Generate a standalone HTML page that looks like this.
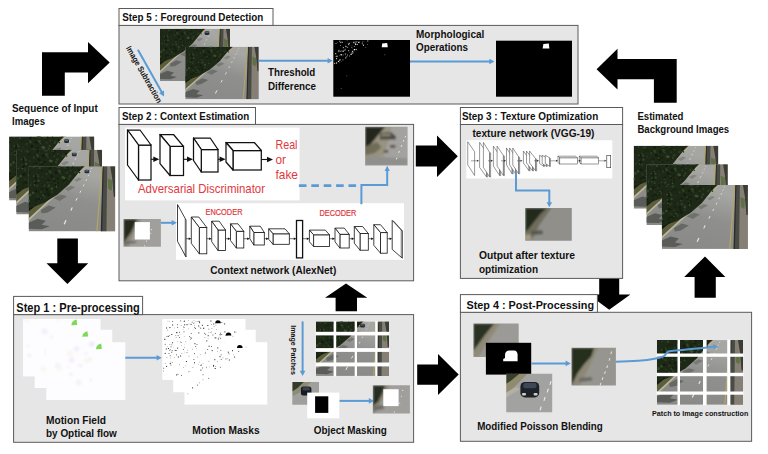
<!DOCTYPE html>
<html><head><meta charset="utf-8"><title>Pipeline</title>
<style>
html,body{margin:0;padding:0;background:#fff;}
svg{display:block;font-family:"Liberation Sans",sans-serif;}
</style></head><body>
<svg width="768" height="454" viewBox="0 0 768 454">
<defs>
<filter id="b1" x="-5%" y="-5%" width="110%" height="110%"><feGaussianBlur stdDeviation="0.5"/></filter>
<filter id="b2" x="-5%" y="-5%" width="110%" height="110%"><feGaussianBlur stdDeviation="0.85"/></filter>

<linearGradient id="rg" x1="0" y1="1" x2="0.35" y2="0"><stop offset="0" stop-color="#888886"/><stop offset="0.6" stop-color="#8f8f8d"/><stop offset="1" stop-color="#a6a6a3"/></linearGradient>
<symbol id="road" viewBox="0 0 86 64" preserveAspectRatio="none">
<rect width="86" height="64" fill="url(#rg)"/>
<g filter="url(#b1)">
<rect x="76.5" y="0" width="9.5" height="64" fill="#857f75"/>
<polygon points="78.5,12 83,14 82.5,24 79,22" fill="#5f6f45"/>
<polygon points="81,0 86,0 86,30 84.5,30 83,12" fill="#3a3d36"/>
<polygon points="73.6,0 78,0 77.2,64 72.2,64" fill="#4a4b45"/>
<polygon points="73.4,0 74.5,0 73,64 71.6,64" fill="#2a2c28"/>
<polygon points="72.4,0 73.3,0 68.4,64 67.2,64" fill="#b8a55f"/>
<polygon points="54,0 57.4,0 0,53 0,41" fill="#5c5e3a"/>
<polygon points="56.2,0 58,0 0,53.8 0,51.4" fill="#bdb6a0"/>
<polygon points="0,55.5 9,51.5 17,53.5 13,57.5 21,59 13,62 0,61.5" fill="#5a5c59"/>
<polygon points="12,43 20,38.5 27,40.5 19,45.5 13,46.5" fill="#666864"/>
<polygon points="25,31.5 32,27.8 38,29.5 31,34" fill="#6f716d"/>
<polygon points="36,22 42,19 46,20.6 39,24.5" fill="#787a76"/>
<polygon points="45,13.5 50,11 53,12.2 48,15.5" fill="#838581"/>
</g>
<polygon points="52.6,0 55.2,0 0,44.5 0,37" fill="#151b13"/>
<polygon points="0,0 54,0 48.5,7.5 40,18 28.5,28 15,36 0,41.5" fill="#1d2816"/>
<circle cx="20.0" cy="19.4" r="1.34" fill="#2c3d22"/>
<circle cx="41.1" cy="9.7" r="1.40" fill="#2c3d22"/>
<circle cx="6.0" cy="18.3" r="0.88" fill="#3a5030"/>
<circle cx="5.4" cy="9.7" r="0.91" fill="#3a5030"/>
<circle cx="9.7" cy="33.8" r="0.66" fill="#2f4226"/>
<circle cx="42.2" cy="5.4" r="0.63" fill="#1a2413"/>
<circle cx="0.1" cy="34.0" r="1.27" fill="#3a5030"/>
<circle cx="50.6" cy="6.2" r="0.79" fill="#25331c"/>
<circle cx="30.8" cy="6.2" r="0.68" fill="#3a5030"/>
<circle cx="48.9" cy="5.9" r="0.80" fill="#2f4226"/>
<circle cx="19.1" cy="6.5" r="0.76" fill="#25331c"/>
<circle cx="16.0" cy="30.7" r="1.10" fill="#2c3d22"/>
<circle cx="37.5" cy="2.6" r="1.32" fill="#141c0e"/>
<circle cx="25.5" cy="12.3" r="0.97" fill="#1a2413"/>
<circle cx="9.3" cy="10.0" r="1.45" fill="#2c3d22"/>
<circle cx="19.0" cy="15.8" r="0.87" fill="#2f4226"/>
<circle cx="30.7" cy="0.4" r="1.21" fill="#2c3d22"/>
<circle cx="8.8" cy="19.4" r="1.26" fill="#33482a"/>
<circle cx="9.4" cy="7.4" r="1.01" fill="#141c0e"/>
<circle cx="46.1" cy="8.9" r="0.61" fill="#1a2413"/>
<circle cx="17.1" cy="14.5" r="0.54" fill="#162010"/>
<circle cx="50.1" cy="3.6" r="1.01" fill="#141c0e"/>
<circle cx="19.2" cy="5.8" r="1.42" fill="#162010"/>
<circle cx="28.9" cy="12.2" r="0.81" fill="#141c0e"/>
<circle cx="26.1" cy="12.5" r="1.50" fill="#162010"/>
<circle cx="8.6" cy="1.9" r="0.53" fill="#2f4226"/>
<circle cx="39.2" cy="13.4" r="0.96" fill="#162010"/>
<circle cx="22.4" cy="2.2" r="1.30" fill="#2c3d22"/>
<circle cx="17.7" cy="8.1" r="1.13" fill="#25331c"/>
<circle cx="41.8" cy="4.2" r="0.87" fill="#2f4226"/>
<circle cx="3.1" cy="16.4" r="0.95" fill="#25331c"/>
<circle cx="14.2" cy="4.7" r="1.46" fill="#1a2413"/>
<circle cx="36.5" cy="12.4" r="0.79" fill="#162010"/>
<circle cx="21.4" cy="5.7" r="1.32" fill="#2f4226"/>
<circle cx="28.2" cy="7.0" r="1.37" fill="#1a2413"/>
<circle cx="9.5" cy="19.2" r="0.56" fill="#141c0e"/>
<circle cx="40.5" cy="12.7" r="1.26" fill="#2c3d22"/>
<circle cx="19.3" cy="27.5" r="1.34" fill="#162010"/>
<circle cx="7.4" cy="33.4" r="1.46" fill="#162010"/>
<circle cx="18.0" cy="7.0" r="0.97" fill="#2c3d22"/>
<circle cx="41.0" cy="12.7" r="0.96" fill="#162010"/>
<circle cx="25.0" cy="11.8" r="0.85" fill="#141c0e"/>
<circle cx="20.3" cy="18.6" r="0.85" fill="#2f4226"/>
<circle cx="13.3" cy="10.8" r="1.48" fill="#1a2413"/>
<circle cx="31.9" cy="6.4" r="0.70" fill="#25331c"/>
<circle cx="14.1" cy="29.6" r="1.19" fill="#162010"/>
<circle cx="20.7" cy="15.6" r="1.12" fill="#25331c"/>
<circle cx="32.0" cy="7.2" r="0.80" fill="#2f4226"/>
<circle cx="13.4" cy="22.1" r="1.22" fill="#162010"/>
<circle cx="1.5" cy="6.2" r="1.12" fill="#1a2413"/>
<circle cx="9.6" cy="29.6" r="1.13" fill="#25331c"/>
<circle cx="2.2" cy="18.4" r="0.67" fill="#3a5030"/>
<circle cx="47.3" cy="4.3" r="0.98" fill="#25331c"/>
<circle cx="29.1" cy="16.2" r="0.88" fill="#141c0e"/>
<circle cx="28.1" cy="19.8" r="1.22" fill="#3a5030"/>
<circle cx="19.8" cy="13.7" r="1.36" fill="#162010"/>
<circle cx="22.9" cy="9.9" r="1.46" fill="#141c0e"/>
<circle cx="29.1" cy="11.8" r="1.05" fill="#162010"/>
<circle cx="18.0" cy="22.7" r="1.32" fill="#141c0e"/>
<circle cx="16.3" cy="27.3" r="0.97" fill="#141c0e"/>
<circle cx="8.3" cy="14.9" r="1.46" fill="#1a2413"/>
<circle cx="27.1" cy="5.9" r="1.32" fill="#141c0e"/>
<circle cx="35.1" cy="14.9" r="1.07" fill="#141c0e"/>
<circle cx="32.6" cy="5.5" r="0.93" fill="#2f4226"/>
<circle cx="33.2" cy="5.6" r="1.47" fill="#1a2413"/>
<circle cx="8.4" cy="28.9" r="1.10" fill="#25331c"/>
<circle cx="7.4" cy="33.5" r="0.75" fill="#1a2413"/>
<circle cx="1.0" cy="36.9" r="0.99" fill="#162010"/>
<circle cx="15.2" cy="18.6" r="1.16" fill="#33482a"/>
<circle cx="46.3" cy="6.2" r="1.28" fill="#2c3d22"/>
<circle cx="43.8" cy="0.5" r="0.74" fill="#162010"/>
<circle cx="25.1" cy="1.4" r="0.77" fill="#1a2413"/>
<circle cx="7.0" cy="37.6" r="0.99" fill="#162010"/>
<circle cx="31.9" cy="5.0" r="0.52" fill="#33482a"/>
<circle cx="6.7" cy="11.0" r="1.11" fill="#141c0e"/>
<circle cx="38.8" cy="1.0" r="0.86" fill="#141c0e"/>
<circle cx="28.0" cy="14.6" r="0.50" fill="#2c3d22"/>
<circle cx="23.0" cy="22.1" r="1.39" fill="#33482a"/>
<circle cx="28.9" cy="0.6" r="1.09" fill="#2f4226"/>
<circle cx="8.8" cy="16.8" r="1.36" fill="#1a2413"/>
<circle cx="34.1" cy="10.9" r="1.40" fill="#3a5030"/>
<circle cx="19.2" cy="25.5" r="1.34" fill="#162010"/>
<circle cx="36.4" cy="16.6" r="1.15" fill="#162010"/>
<circle cx="25.0" cy="12.1" r="0.98" fill="#25331c"/>
<circle cx="29.1" cy="19.4" r="1.04" fill="#141c0e"/>
<circle cx="22.6" cy="21.1" r="0.57" fill="#2c3d22"/>
<circle cx="12.2" cy="32.0" r="1.16" fill="#33482a"/>
<circle cx="1.4" cy="28.2" r="1.50" fill="#33482a"/>
<circle cx="37.2" cy="1.9" r="0.72" fill="#33482a"/>
<circle cx="8.9" cy="18.5" r="1.49" fill="#25331c"/>
<circle cx="36.1" cy="16.2" r="1.11" fill="#25331c"/>
<circle cx="21.9" cy="6.3" r="0.54" fill="#3a5030"/>
<circle cx="5.7" cy="14.8" r="0.78" fill="#33482a"/>
<circle cx="30.3" cy="4.6" r="1.38" fill="#2f4226"/>
<circle cx="7.1" cy="16.8" r="1.19" fill="#141c0e"/>
<circle cx="25.9" cy="13.8" r="1.41" fill="#141c0e"/>
<circle cx="7.3" cy="11.5" r="1.41" fill="#162010"/>
<circle cx="26.5" cy="22.0" r="0.56" fill="#162010"/>
<circle cx="12.5" cy="32.5" r="1.02" fill="#162010"/>
<circle cx="7.1" cy="9.1" r="0.95" fill="#141c0e"/>
<circle cx="20.6" cy="5.1" r="1.16" fill="#2c3d22"/>
<circle cx="4.5" cy="26.1" r="1.36" fill="#33482a"/>
<circle cx="26.8" cy="17.7" r="1.38" fill="#2f4226"/>
<circle cx="25.5" cy="12.6" r="1.04" fill="#2c3d22"/>
<circle cx="14.4" cy="28.7" r="1.18" fill="#2f4226"/>
<circle cx="11.8" cy="4.5" r="1.32" fill="#1a2413"/>
<circle cx="7.4" cy="24.4" r="1.34" fill="#141c0e"/>
<circle cx="10.0" cy="32.4" r="1.30" fill="#141c0e"/>
<circle cx="20.0" cy="28.2" r="1.15" fill="#141c0e"/>
<circle cx="36.4" cy="12.3" r="1.02" fill="#141c0e"/>
<circle cx="29.0" cy="20.6" r="0.90" fill="#25331c"/>
<circle cx="5.1" cy="1.3" r="0.70" fill="#3a5030"/>
<circle cx="9.7" cy="24.6" r="0.50" fill="#141c0e"/>
<circle cx="12.2" cy="25.3" r="0.82" fill="#2f4226"/>
<circle cx="24.5" cy="7.5" r="0.57" fill="#25331c"/>
<circle cx="13.3" cy="9.8" r="0.65" fill="#1a2413"/>
<circle cx="13.5" cy="10.8" r="1.25" fill="#25331c"/>
<circle cx="35.6" cy="1.3" r="0.84" fill="#2c3d22"/>
<circle cx="39.9" cy="12.3" r="1.19" fill="#2c3d22"/>
<circle cx="34.4" cy="17.4" r="0.62" fill="#25331c"/>
<circle cx="35.4" cy="11.4" r="1.23" fill="#3a5030"/>
<circle cx="8.7" cy="7.8" r="1.07" fill="#2c3d22"/>
<circle cx="26.6" cy="18.1" r="1.18" fill="#141c0e"/>
<circle cx="9.8" cy="14.1" r="1.23" fill="#33482a"/>
<circle cx="38.1" cy="6.4" r="0.68" fill="#3a5030"/>
<circle cx="11.1" cy="1.7" r="1.23" fill="#2f4226"/>
<circle cx="14.3" cy="18.0" r="1.28" fill="#1a2413"/>
<circle cx="21.7" cy="1.8" r="1.44" fill="#141c0e"/>
<circle cx="38.0" cy="9.2" r="0.59" fill="#1a2413"/>
<circle cx="23.2" cy="25.3" r="1.00" fill="#2c3d22"/>
<line x1="35.3" y1="56.9" x2="37.1" y2="53.1" stroke="#ecece9" stroke-width="1.16"/>
<line x1="41.9" y1="43.5" x2="43.3" y2="40.5" stroke="#ecece9" stroke-width="1.03"/>
<line x1="47.0" y1="33.8" x2="48.2" y2="31.2" stroke="#ecece9" stroke-width="0.93"/>
<line x1="50.9" y1="26.0" x2="51.9" y2="24.0" stroke="#ecece9" stroke-width="0.84"/>
<line x1="54.2" y1="19.7" x2="55.0" y2="17.9" stroke="#ecece9" stroke-width="0.79"/>
<line x1="56.8" y1="14.3" x2="57.6" y2="12.7" stroke="#ecece9" stroke-width="0.74"/>
<line x1="59.1" y1="9.7" x2="59.7" y2="8.3" stroke="#ecece9" stroke-width="0.71"/>
<line x1="60.9" y1="5.8" x2="61.5" y2="4.6" stroke="#ecece9" stroke-width="0.67"/>
<line x1="62.4" y1="2.5" x2="62.8" y2="1.5" stroke="#ecece9" stroke-width="0.64"/>
</symbol>
<symbol id="car" viewBox="0 0 6 5"><rect x="0.6" y="0.8" width="4.8" height="3.6" rx="1.2" fill="#252c38"/><rect x="1.3" y="1.2" width="3.4" height="1.4" rx="0.6" fill="#56627a"/></symbol>
</defs>
<rect width="768" height="454" fill="#fff"/>
<polygon points="42.00,95.80 42.00,52.20 88.00,52.20 88.00,42.00 109.70,62.50 88.00,83.30 88.00,72.40 64.80,72.40 64.80,95.80" fill="#000" stroke="none" stroke-width="1" />
<polygon points="676.70,102.70 676.70,58.90 617.50,58.90 617.50,48.70 596.60,69.20 617.50,89.50 617.50,79.30 653.90,79.30 653.90,102.70" fill="#000" stroke="none" stroke-width="1" />
<polygon points="57.30,238.60 77.90,238.60 77.90,263.30 88.20,263.30 67.40,284.00 46.50,263.30 57.30,263.30" fill="#000" stroke="none" stroke-width="1" />
<polygon points="415.80,145.50 437.00,145.50 437.00,135.60 457.80,156.30 437.00,177.00 437.00,166.40 415.80,166.40" fill="#000" stroke="none" stroke-width="1" />
<polygon points="335.60,311.20 335.60,297.70 325.00,297.70 346.00,283.50 367.30,297.70 357.00,297.70 357.00,311.20" fill="#000" stroke="none" stroke-width="1" />
<polygon points="417.20,364.60 438.00,364.60 438.00,354.00 458.70,374.40 438.00,395.10 438.00,384.80 417.20,384.80" fill="#000" stroke="none" stroke-width="1" />
<polygon points="599.20,278.00 619.20,278.00 619.20,294.40 630.40,294.40 609.20,309.70 588.70,294.40 599.20,294.40" fill="#000" stroke="none" stroke-width="1" />
<polygon points="694.60,297.70 694.60,276.90 684.20,276.90 705.00,256.40 725.40,276.90 715.80,276.90 715.80,297.70" fill="#000" stroke="none" stroke-width="1" />
<rect x="119.00" y="25.40" width="459.00" height="78.60" fill="#e7e6e6" stroke="#5a5a5a" stroke-width="1" />
<rect x="119.00" y="8.50" width="154.00" height="16.90" fill="#fff" stroke="#5a5a5a" stroke-width="1" />
<rect x="119.00" y="124.40" width="294.60" height="156.40" fill="#e7e6e6" stroke="#5a5a5a" stroke-width="1" />
<rect x="119.00" y="107.50" width="136.50" height="16.90" fill="#fff" stroke="#5a5a5a" stroke-width="1" />
<rect x="460.40" y="124.50" width="162.20" height="153.90" fill="#e7e6e6" stroke="#5a5a5a" stroke-width="1" />
<rect x="460.40" y="107.50" width="162.20" height="17.00" fill="#fff" stroke="#5a5a5a" stroke-width="1" />
<rect x="13.60" y="314.60" width="400.00" height="127.70" fill="#e7e6e6" stroke="#5a5a5a" stroke-width="1" />
<rect x="13.60" y="296.40" width="129.00" height="18.20" fill="#fff" stroke="#5a5a5a" stroke-width="1" />
<rect x="460.40" y="312.30" width="291.20" height="129.00" fill="#e7e6e6" stroke="#5a5a5a" stroke-width="1" />
<rect x="460.40" y="294.60" width="137.00" height="17.70" fill="#fff" stroke="#5a5a5a" stroke-width="1" />
<text x="122.20" y="21.20" font-size="10.8" font-weight="bold" fill="#111" textLength="141.0" lengthAdjust="spacingAndGlyphs" >Step 5 : Foreground Detection</text>
<text x="122.00" y="120.30" font-size="10.8" font-weight="bold" fill="#111" textLength="127.2" lengthAdjust="spacingAndGlyphs" >Step 2 : Context Estimation</text>
<text x="461.90" y="120.30" font-size="10.8" font-weight="bold" fill="#111" textLength="136.3" lengthAdjust="spacingAndGlyphs" >Step 3 : Texture Optimization</text>
<text x="16.30" y="311.90" font-size="12.2" font-weight="bold" fill="#111" textLength="123.4" lengthAdjust="spacingAndGlyphs" >Step 1 : Pre-processing</text>
<text x="466.50" y="308.60" font-size="11.4" font-weight="bold" fill="#111" textLength="127.5" lengthAdjust="spacingAndGlyphs" >Step 4 : Post-Processing</text>
<text x="12.00" y="111.60" font-size="10.8" font-weight="bold" fill="#111" textLength="85.7" lengthAdjust="spacingAndGlyphs" >Sequence of Input</text>
<text x="12.00" y="125.30" font-size="10.8" font-weight="bold" fill="#111" textLength="33.0" lengthAdjust="spacingAndGlyphs" >Images</text>
<text x="637.40" y="119.60" font-size="10.8" font-weight="bold" fill="#111" textLength="46.0" lengthAdjust="spacingAndGlyphs" >Estimated</text>
<text x="637.40" y="133.20" font-size="10.8" font-weight="bold" fill="#111" textLength="91.8" lengthAdjust="spacingAndGlyphs" >Background Images</text>
<use href="#road" x="9.10" y="136.40" width="85.20" height="64.10" />
<use href="#car" x="63.60" y="138.50" width="6.00" height="5.00" />
<use href="#road" x="16.20" y="149.80" width="85.90" height="64.70" />
<use href="#car" x="71.30" y="151.90" width="6.00" height="5.00" />
<use href="#road" x="28.60" y="166.30" width="86.70" height="65.10" />
<use href="#car" x="83.90" y="168.90" width="6.00" height="5.00" />
<use href="#road" x="633.70" y="145.80" width="84.60" height="62.90" />
<use href="#road" x="646.40" y="164.30" width="81.40" height="60.70" />
<use href="#road" x="661.80" y="184.90" width="86.10" height="64.00" />
<use href="#road" x="160.00" y="28.80" width="70.00" height="52.20" />
<use href="#car" x="204.00" y="30.50" width="6.00" height="5.00" />
<use href="#road" x="185.30" y="46.70" width="73.40" height="52.60" />
<g transform="translate(128.2,46.6) rotate(60.3)">
<text x="0.00" y="0.60" font-size="8.2" font-weight="bold" fill="#111" textLength="64.0" lengthAdjust="spacingAndGlyphs" dominant-baseline="middle">Image Subtraction</text>
</g>
<polyline points="137.90,49.70 162.06,92.77" fill="none" stroke="#5b9bd5" stroke-width="2.0" />
<polygon points="164.10,96.40 159.11,93.23 164.00,90.49" fill="#5b9bd5" stroke="none" stroke-width="1" />
<polyline points="258.70,60.80 328.64,60.80" fill="none" stroke="#5b9bd5" stroke-width="2.0" />
<polygon points="332.80,60.80 327.60,63.60 327.60,58.00" fill="#5b9bd5" stroke="none" stroke-width="1" />
<rect x="333.30" y="40.00" width="76.70" height="56.70" fill="#000" stroke="none" stroke-width="1" />
<rect x="339.6" y="59.0" width="0.8" height="0.8" fill="#888"/>
<rect x="339.3" y="40.7" width="1.0" height="1.0" fill="#ddd"/>
<rect x="340.2" y="54.6" width="0.5" height="0.5" fill="#fff"/>
<rect x="346.8" y="56.2" width="0.5" height="0.5" fill="#ccc"/>
<rect x="341.0" y="61.1" width="0.6" height="0.6" fill="#999"/>
<rect x="367.3" y="40.5" width="1.0" height="1.0" fill="#ddd"/>
<rect x="353.3" y="41.6" width="1.2" height="1.2" fill="#888"/>
<rect x="344.5" y="49.9" width="0.8" height="0.8" fill="#fff"/>
<rect x="339.2" y="62.5" width="0.5" height="0.5" fill="#fff"/>
<rect x="352.9" y="52.5" width="0.8" height="0.8" fill="#888"/>
<rect x="350.8" y="45.4" width="0.5" height="0.5" fill="#888"/>
<rect x="338.5" y="61.1" width="0.6" height="0.6" fill="#ccc"/>
<rect x="345.2" y="45.7" width="1.2" height="1.2" fill="#999"/>
<rect x="336.3" y="55.5" width="1.2" height="1.2" fill="#888"/>
<rect x="361.8" y="42.5" width="1.2" height="1.2" fill="#888"/>
<rect x="358.6" y="41.6" width="1.2" height="1.2" fill="#888"/>
<rect x="344.9" y="53.5" width="0.8" height="0.8" fill="#fff"/>
<rect x="363.0" y="44.7" width="1.0" height="1.0" fill="#fff"/>
<rect x="351.6" y="52.5" width="1.2" height="1.2" fill="#ccc"/>
<rect x="353.8" y="49.0" width="1.2" height="1.2" fill="#fff"/>
<rect x="340.1" y="45.0" width="0.8" height="0.8" fill="#aaa"/>
<rect x="345.9" y="56.5" width="0.8" height="0.8" fill="#ccc"/>
<rect x="337.4" y="42.2" width="0.6" height="0.6" fill="#888"/>
<rect x="355.7" y="48.9" width="1.2" height="1.2" fill="#999"/>
<rect x="335.3" y="56.4" width="0.6" height="0.6" fill="#999"/>
<rect x="348.1" y="43.6" width="1.0" height="1.0" fill="#ddd"/>
<rect x="346.9" y="47.1" width="0.6" height="0.6" fill="#ccc"/>
<rect x="349.1" y="55.5" width="1.0" height="1.0" fill="#999"/>
<rect x="351.9" y="44.8" width="0.5" height="0.5" fill="#aaa"/>
<rect x="356.8" y="41.3" width="0.6" height="0.6" fill="#ccc"/>
<rect x="355.0" y="43.9" width="0.6" height="0.6" fill="#ccc"/>
<rect x="342.7" y="54.5" width="0.8" height="0.8" fill="#ccc"/>
<rect x="335.2" y="53.2" width="1.0" height="1.0" fill="#fff"/>
<rect x="335.5" y="43.1" width="0.8" height="0.8" fill="#ccc"/>
<rect x="337.9" y="51.2" width="1.0" height="1.0" fill="#888"/>
<rect x="348.5" y="44.5" width="0.8" height="0.8" fill="#ccc"/>
<rect x="352.5" y="47.9" width="0.5" height="0.5" fill="#888"/>
<rect x="344.8" y="41.6" width="0.5" height="0.5" fill="#aaa"/>
<rect x="348.0" y="50.0" width="1.2" height="1.2" fill="#888"/>
<rect x="342.8" y="51.4" width="0.6" height="0.6" fill="#ccc"/>
<rect x="338.8" y="51.1" width="0.6" height="0.6" fill="#fff"/>
<rect x="346.3" y="46.2" width="0.5" height="0.5" fill="#fff"/>
<rect x="356.7" y="43.8" width="1.2" height="1.2" fill="#aaa"/>
<rect x="354.9" y="43.4" width="1.2" height="1.2" fill="#ccc"/>
<rect x="362.4" y="44.2" width="0.6" height="0.6" fill="#999"/>
<rect x="342.8" y="47.0" width="1.2" height="1.2" fill="#999"/>
<rect x="351.1" y="47.3" width="0.5" height="0.5" fill="#fff"/>
<rect x="355.2" y="44.1" width="1.0" height="1.0" fill="#ddd"/>
<rect x="339.9" y="59.6" width="0.8" height="0.8" fill="#999"/>
<rect x="347.6" y="47.3" width="0.6" height="0.6" fill="#888"/>
<rect x="339.3" y="60.0" width="0.8" height="0.8" fill="#ddd"/>
<rect x="340.7" y="54.2" width="1.2" height="1.2" fill="#fff"/>
<rect x="352.9" y="42.0" width="1.2" height="1.2" fill="#999"/>
<rect x="345.1" y="54.4" width="0.8" height="0.8" fill="#999"/>
<rect x="346.9" y="46.9" width="0.6" height="0.6" fill="#fff"/>
<rect x="355.4" y="49.2" width="0.6" height="0.6" fill="#aaa"/>
<rect x="336.1" y="58.2" width="1.0" height="1.0" fill="#fff"/>
<rect x="338.4" y="49.8" width="1.0" height="1.0" fill="#ddd"/>
<rect x="355.5" y="40.9" width="1.0" height="1.0" fill="#888"/>
<rect x="351.9" y="50.9" width="1.0" height="1.0" fill="#fff"/>
<rect x="341.7" y="41.7" width="1.0" height="1.0" fill="#fff"/>
<rect x="342.4" y="59.4" width="1.0" height="1.0" fill="#999"/>
<rect x="353.9" y="45.9" width="1.0" height="1.0" fill="#888"/>
<rect x="345.3" y="46.6" width="0.5" height="0.5" fill="#fff"/>
<rect x="350.6" y="53.7" width="1.2" height="1.2" fill="#ccc"/>
<rect x="341.5" y="50.5" width="1.2" height="1.2" fill="#999"/>
<rect x="343.2" y="51.0" width="0.8" height="0.8" fill="#ccc"/>
<rect x="350.6" y="53.9" width="0.8" height="0.8" fill="#ddd"/>
<rect x="347.2" y="54.6" width="0.5" height="0.5" fill="#ccc"/>
<rect x="344.7" y="48.8" width="1.0" height="1.0" fill="#999"/>
<rect x="338.9" y="55.3" width="0.5" height="0.5" fill="#ddd"/>
<rect x="358.2" y="41.9" width="1.0" height="1.0" fill="#fff"/>
<rect x="334.1" y="62.9" width="1.0" height="1.0" fill="#ccc"/>
<rect x="345.0" y="57.4" width="1.2" height="1.2" fill="#999"/>
<rect x="340.4" y="42.6" width="0.5" height="0.5" fill="#aaa"/>
<rect x="350.8" y="41.9" width="0.6" height="0.6" fill="#999"/>
<rect x="351.5" y="46.8" width="0.8" height="0.8" fill="#999"/>
<rect x="355.5" y="42.0" width="1.0" height="1.0" fill="#888"/>
<rect x="353.5" y="50.7" width="0.8" height="0.8" fill="#999"/>
<rect x="339.9" y="50.8" width="0.8" height="0.8" fill="#fff"/>
<rect x="362.2" y="41.5" width="0.5" height="0.5" fill="#aaa"/>
<rect x="340.4" y="42.2" width="0.8" height="0.8" fill="#fff"/>
<rect x="336.4" y="56.1" width="1.0" height="1.0" fill="#ddd"/>
<rect x="349.2" y="52.5" width="0.5" height="0.5" fill="#ddd"/>
<rect x="363.6" y="41.1" width="0.6" height="0.6" fill="#888"/>
<rect x="346.8" y="40.5" width="0.6" height="0.6" fill="#ccc"/>
<rect x="348.8" y="42.8" width="1.0" height="1.0" fill="#ddd"/>
<rect x="339.4" y="59.1" width="1.0" height="1.0" fill="#888"/>
<rect x="337.9" y="60.8" width="1.2" height="1.2" fill="#ddd"/>
<rect x="336.4" y="43.5" width="0.5" height="0.5" fill="#999"/>
<rect x="354.2" y="42.6" width="0.6" height="0.6" fill="#ccc"/>
<rect x="335.9" y="62.4" width="1.2" height="1.2" fill="#ddd"/>
<rect x="347.1" y="54.7" width="0.8" height="0.8" fill="#ccc"/>
<rect x="343.2" y="49.9" width="0.8" height="0.8" fill="#999"/>
<rect x="346.9" y="43.4" width="0.5" height="0.5" fill="#999"/>
<rect x="346.5" y="75.5" width="0.7" height="0.7" fill="#aaa"/>
<rect x="340.8" y="88" width="0.7" height="0.7" fill="#aaa"/>
<rect x="384.5" y="54.5" width="0.7" height="0.7" fill="#aaa"/>
<rect x="367" y="44" width="0.7" height="0.7" fill="#aaa"/>
<rect x="365.5" y="47" width="0.7" height="0.7" fill="#aaa"/>
<path d="M381.7,47.3 L382.2,43.6 L387.2,43 L387.8,47.3 Z" fill="#fff"/>
<text x="268.00" y="75.90" font-size="10.8" font-weight="bold" fill="#111" textLength="47.3" lengthAdjust="spacingAndGlyphs" >Threshold</text>
<text x="268.00" y="89.60" font-size="10.8" font-weight="bold" fill="#111" textLength="48.0" lengthAdjust="spacingAndGlyphs" >Difference</text>
<polyline points="410.00,61.50 490.34,61.50" fill="none" stroke="#5b9bd5" stroke-width="2.0" />
<polygon points="494.50,61.50 489.30,64.30 489.30,58.70" fill="#5b9bd5" stroke="none" stroke-width="1" />
<text x="416.00" y="37.90" font-size="10.8" font-weight="bold" fill="#111" textLength="68.3" lengthAdjust="spacingAndGlyphs" >Morphological</text>
<text x="416.00" y="51.30" font-size="10.8" font-weight="bold" fill="#111" textLength="52.0" lengthAdjust="spacingAndGlyphs" >Operations</text>
<rect x="496.00" y="40.70" width="76.00" height="56.00" fill="#000" stroke="none" stroke-width="1" />
<path d="M542.6,48.6 L543.4,44 L548.8,43.4 L549.4,48.6 Z" fill="#fff"/>
<rect x="125.00" y="127.60" width="174.50" height="72.80" fill="#fff" stroke="none" stroke-width="1" />
<rect x="138.50" y="145.00" width="12.50" height="35.00" fill="#fff" stroke="#111" stroke-width="1.25" />
<polygon points="138.50,145.00 127.50,130.00 140.00,130.00 151.00,145.00" fill="#fff" stroke="#111" stroke-width="1.25" stroke-linejoin="round"/>
<polygon points="138.50,145.00 127.50,130.00 127.50,165.00 138.50,180.00" fill="#fff" stroke="#111" stroke-width="1.25" stroke-linejoin="round"/>
<rect x="170.00" y="146.30" width="13.50" height="29.20" fill="#fff" stroke="#111" stroke-width="1.25" />
<polygon points="170.00,146.30 160.00,134.50 173.50,134.50 183.50,146.30" fill="#fff" stroke="#111" stroke-width="1.25" stroke-linejoin="round"/>
<polygon points="170.00,146.30 160.00,134.50 160.00,163.70 170.00,175.50" fill="#fff" stroke="#111" stroke-width="1.25" stroke-linejoin="round"/>
<rect x="201.30" y="149.50" width="16.70" height="22.50" fill="#fff" stroke="#111" stroke-width="1.25" />
<polygon points="201.30,149.50 193.50,138.00 210.20,138.00 218.00,149.50" fill="#fff" stroke="#111" stroke-width="1.25" stroke-linejoin="round"/>
<polygon points="201.30,149.50 193.50,138.00 193.50,160.50 201.30,172.00" fill="#fff" stroke="#111" stroke-width="1.25" stroke-linejoin="round"/>
<rect x="233.00" y="150.50" width="28.30" height="19.50" fill="#fff" stroke="#111" stroke-width="1.25" />
<polygon points="233.00,150.50 226.00,142.50 254.30,142.50 261.30,150.50" fill="#fff" stroke="#111" stroke-width="1.25" stroke-linejoin="round"/>
<polygon points="233.00,150.50 226.00,142.50 226.00,162.00 233.00,170.00" fill="#fff" stroke="#111" stroke-width="1.25" stroke-linejoin="round"/>
<polyline points="151.00,159.30 155.10,159.30" fill="none" stroke="#111" stroke-width="1.1" />
<polygon points="159.30,159.30 153.30,162.10 153.30,156.50" fill="#111" stroke="none" stroke-width="1" />
<polyline points="183.50,159.30 188.80,159.30" fill="none" stroke="#111" stroke-width="1.1" />
<polygon points="193.00,159.30 187.00,162.10 187.00,156.50" fill="#111" stroke="none" stroke-width="1" />
<polyline points="218.00,159.30 221.40,159.30" fill="none" stroke="#111" stroke-width="1.1" />
<polygon points="225.60,159.30 219.60,162.10 219.60,156.50" fill="#111" stroke="none" stroke-width="1" />
<polyline points="261.30,159.50 268.80,159.50" fill="none" stroke="#111" stroke-width="1.1" />
<polygon points="273.00,159.50 267.00,162.30 267.00,156.70" fill="#111" stroke="none" stroke-width="1" />
<text x="275.50" y="148.60" font-size="13.2" font-weight="normal" fill="#e0383e" textLength="22.0" lengthAdjust="spacingAndGlyphs" >Real</text>
<text x="275.50" y="163.60" font-size="13.2" font-weight="normal" fill="#e0383e" textLength="10.5" lengthAdjust="spacingAndGlyphs" >or</text>
<text x="275.50" y="178.60" font-size="13.2" font-weight="normal" fill="#e0383e" textLength="22.5" lengthAdjust="spacingAndGlyphs" >fake</text>
<text x="138.00" y="192.60" font-size="13.2" font-weight="normal" fill="#e0383e" textLength="127.0" lengthAdjust="spacingAndGlyphs" >Adversarial Discriminator</text>
<rect x="176.00" y="203.20" width="228.00" height="56.60" fill="#fff" stroke="none" stroke-width="1" />
<text x="205.50" y="215.10" font-size="8.4" font-weight="normal" fill="#e0383e" textLength="37.0" lengthAdjust="spacingAndGlyphs" stroke="#e0383e" stroke-width="0.2">ENCODER</text>
<text x="319.50" y="215.60" font-size="8.4" font-weight="normal" fill="#e0383e" textLength="36.8" lengthAdjust="spacingAndGlyphs" stroke="#e0383e" stroke-width="0.2">DECODER</text>
<text x="210.30" y="274.40" font-size="10.8" font-weight="bold" fill="#111" textLength="126.0" lengthAdjust="spacingAndGlyphs" >Context network (AlexNet)</text>
<clipPath id="c1"><rect x="123.50" y="219.00" width="37.40" height="27.80"/></clipPath>
<g clip-path="url(#c1)"><g filter="url(#b2)">
<rect x="119.50" y="215.00" width="45.40" height="35.80" fill="#a09f9c" stroke="none" stroke-width="1" />
<polygon points="134.31,219.05 140.93,219.05 132.99,234.93 128.58,246.83 123.47,246.83 123.47,241.10" fill="#8a8674" stroke="none" stroke-width="1" />
<polygon points="123.47,219.05 136.96,219.05 134.31,225.23 131.23,232.28 126.82,238.46 123.47,242.42" fill="#252c1e" stroke="none" stroke-width="1" />
<polygon points="123.47,241.54 135.64,240.66 136.52,242.86 123.47,244.80" fill="#6c6b66" stroke="none" stroke-width="1" />
</g></g>
<rect x="134.75" y="222.10" width="15.15" height="17.40" fill="#fff" stroke="none" stroke-width="1" />
<circle cx="151.5" cy="229.6" r="0.55" fill="#eee"/>
<circle cx="150.8" cy="233.2" r="0.55" fill="#eee"/>
<circle cx="146.4" cy="241.1" r="0.55" fill="#eee"/>
<circle cx="144.5" cy="245.7" r="0.55" fill="#eee"/>
<polyline points="160.90,222.80 172.74,222.80" fill="none" stroke="#5b9bd5" stroke-width="2.0" />
<polygon points="176.90,222.80 171.70,225.60 171.70,220.00" fill="#5b9bd5" stroke="none" stroke-width="1" />
<polygon points="177.50,204.50 186.00,220.00 186.00,257.00 177.50,241.30" fill="#fff" stroke="#111" stroke-width="0.8" />
<polyline points="185.20,219.00 185.20,255.60" fill="none" stroke="#111" stroke-width="0.5" />
<rect x="199.30" y="227.50" width="7.50" height="26.30" fill="#fff" stroke="#111" stroke-width="0.8" />
<polygon points="199.30,227.50 191.30,217.00 198.80,217.00 206.80,227.50" fill="#fff" stroke="#111" stroke-width="0.8" stroke-linejoin="round"/>
<polygon points="199.30,227.50 191.30,217.00 191.30,243.30 199.30,253.80" fill="#fff" stroke="#111" stroke-width="0.8" stroke-linejoin="round"/>
<rect x="218.00" y="230.00" width="7.50" height="20.50" fill="#fff" stroke="#111" stroke-width="0.8" />
<polygon points="218.00,230.00 211.70,221.20 219.20,221.20 225.50,230.00" fill="#fff" stroke="#111" stroke-width="0.8" stroke-linejoin="round"/>
<polygon points="218.00,230.00 211.70,221.20 211.70,241.70 218.00,250.50" fill="#fff" stroke="#111" stroke-width="0.8" stroke-linejoin="round"/>
<rect x="236.30" y="231.30" width="7.50" height="16.70" fill="#fff" stroke="#111" stroke-width="0.8" />
<polygon points="236.30,231.30 230.50,223.80 238.00,223.80 243.80,231.30" fill="#fff" stroke="#111" stroke-width="0.8" stroke-linejoin="round"/>
<polygon points="236.30,231.30 230.50,223.80 230.50,240.50 236.30,248.00" fill="#fff" stroke="#111" stroke-width="0.8" stroke-linejoin="round"/>
<rect x="253.80" y="232.50" width="10.50" height="12.50" fill="#fff" stroke="#111" stroke-width="0.8" />
<polygon points="253.80,232.50 249.80,226.20 260.30,226.20 264.30,232.50" fill="#fff" stroke="#111" stroke-width="0.8" stroke-linejoin="round"/>
<polygon points="253.80,232.50 249.80,226.20 249.80,238.70 253.80,245.00" fill="#fff" stroke="#111" stroke-width="0.8" stroke-linejoin="round"/>
<rect x="273.00" y="233.80" width="16.30" height="10.50" fill="#fff" stroke="#111" stroke-width="0.8" />
<polygon points="273.00,233.80 268.70,228.80 285.00,228.80 289.30,233.80" fill="#fff" stroke="#111" stroke-width="0.8" stroke-linejoin="round"/>
<polygon points="273.00,233.80 268.70,228.80 268.70,239.30 273.00,244.30" fill="#fff" stroke="#111" stroke-width="0.8" stroke-linejoin="round"/>
<rect x="296.50" y="220.50" width="6.10" height="37.40" fill="#fff" stroke="#111" stroke-width="1.3" />
<polyline points="186.00,238.70 189.48,238.70" fill="none" stroke="#111" stroke-width="0.6" />
<polygon points="191.30,238.70 188.70,240.00 188.70,237.40" fill="#111" stroke="none" stroke-width="1" />
<polyline points="206.80,238.70 209.88,238.70" fill="none" stroke="#111" stroke-width="0.6" />
<polygon points="211.70,238.70 209.10,240.00 209.10,237.40" fill="#111" stroke="none" stroke-width="1" />
<polyline points="225.50,238.70 228.68,238.70" fill="none" stroke="#111" stroke-width="0.6" />
<polygon points="230.50,238.70 227.90,240.00 227.90,237.40" fill="#111" stroke="none" stroke-width="1" />
<polyline points="243.80,238.70 247.98,238.70" fill="none" stroke="#111" stroke-width="0.6" />
<polygon points="249.80,238.70 247.20,240.00 247.20,237.40" fill="#111" stroke="none" stroke-width="1" />
<polyline points="264.30,238.70 266.98,238.70" fill="none" stroke="#111" stroke-width="0.6" />
<polygon points="268.80,238.70 266.20,240.00 266.20,237.40" fill="#111" stroke="none" stroke-width="1" />
<polyline points="289.30,238.70 294.58,238.70" fill="none" stroke="#111" stroke-width="0.6" />
<polygon points="296.40,238.70 293.80,240.00 293.80,237.40" fill="#111" stroke="none" stroke-width="1" />
<polyline points="302.70,238.70 307.58,238.70" fill="none" stroke="#111" stroke-width="0.6" />
<polygon points="309.40,238.70 306.80,240.00 306.80,237.40" fill="#111" stroke="none" stroke-width="1" />
<polyline points="329.50,238.70 333.18,238.70" fill="none" stroke="#111" stroke-width="0.6" />
<polygon points="335.00,238.70 332.40,240.00 332.40,237.40" fill="#111" stroke="none" stroke-width="1" />
<polyline points="349.20,238.70 352.48,238.70" fill="none" stroke="#111" stroke-width="0.6" />
<polygon points="354.30,238.70 351.70,240.00 351.70,237.40" fill="#111" stroke="none" stroke-width="1" />
<polyline points="368.30,238.70 371.98,238.70" fill="none" stroke="#111" stroke-width="0.6" />
<polygon points="373.80,238.70 371.20,240.00 371.20,237.40" fill="#111" stroke="none" stroke-width="1" />
<polyline points="387.20,238.70 390.38,238.70" fill="none" stroke="#111" stroke-width="0.6" />
<polygon points="392.20,238.70 389.60,240.00 389.60,237.40" fill="#111" stroke="none" stroke-width="1" />
<rect x="313.60" y="234.80" width="15.90" height="11.70" fill="#fff" stroke="#111" stroke-width="0.8" />
<polygon points="313.60,234.80 309.40,230.10 325.30,230.10 329.50,234.80" fill="#fff" stroke="#111" stroke-width="0.8" stroke-linejoin="round"/>
<polygon points="313.60,234.80 309.40,230.10 309.40,241.80 313.60,246.50" fill="#fff" stroke="#111" stroke-width="0.8" stroke-linejoin="round"/>
<rect x="339.90" y="234.30" width="9.30" height="13.70" fill="#fff" stroke="#111" stroke-width="0.8" />
<polygon points="339.90,234.30 335.00,228.10 344.30,228.10 349.20,234.30" fill="#fff" stroke="#111" stroke-width="0.8" stroke-linejoin="round"/>
<polygon points="339.90,234.30 335.00,228.10 335.00,241.80 339.90,248.00" fill="#fff" stroke="#111" stroke-width="0.8" stroke-linejoin="round"/>
<rect x="360.00" y="233.50" width="8.30" height="16.70" fill="#fff" stroke="#111" stroke-width="0.8" />
<polygon points="360.00,233.50 354.30,226.50 362.60,226.50 368.30,233.50" fill="#fff" stroke="#111" stroke-width="0.8" stroke-linejoin="round"/>
<polygon points="360.00,233.50 354.30,226.50 354.30,243.20 360.00,250.20" fill="#fff" stroke="#111" stroke-width="0.8" stroke-linejoin="round"/>
<rect x="380.50" y="232.60" width="6.70" height="20.60" fill="#fff" stroke="#111" stroke-width="0.8" />
<polygon points="380.50,232.60 373.80,224.70 380.50,224.70 387.20,232.60" fill="#fff" stroke="#111" stroke-width="0.8" stroke-linejoin="round"/>
<polygon points="380.50,232.60 373.80,224.70 373.80,245.30 380.50,253.20" fill="#fff" stroke="#111" stroke-width="0.8" stroke-linejoin="round"/>
<polygon points="392.20,220.40 402.30,231.00 402.30,258.20 392.20,249.40" fill="#fff" stroke="#111" stroke-width="0.8" />
<polyline points="401.20,230.20 401.20,257.00" fill="none" stroke="#111" stroke-width="0.5" />
<polyline points="393.30,220.60 402.30,231.00" fill="none" stroke="#111" stroke-width="0.5" />
<polyline points="298.90,185.60 356.30,185.60" fill="none" stroke="#5b9bd5" stroke-width="2.6" stroke-dasharray="7.6,4.8"/>
<polyline points="361.40,204.30 361.40,185.00 387.20,185.00 387.20,169.50" fill="none" stroke="#5b9bd5" stroke-width="2.0" />
<polygon points="387.20,165.70 389.80,170.90 384.60,170.90" fill="#5b9bd5" stroke="none" stroke-width="1" />
<clipPath id="c2"><rect x="365.10" y="126.80" width="42.50" height="38.60"/></clipPath>
<g clip-path="url(#c2)"><g filter="url(#b2)">
<rect x="361.10" y="122.80" width="50.50" height="46.60" fill="#a3a29e" stroke="none" stroke-width="1" />
<polygon points="365.13,126.83 391.34,126.83 388.04,142.03 383.63,156.34 365.13,158.00" fill="#98927f" stroke="none" stroke-width="1" />
<polygon points="365.13,156.34 407.64,158.55 407.64,165.37 365.13,165.37" fill="#8f8f8b" stroke="none" stroke-width="1" />
<polygon points="365.13,126.83 385.29,126.83 380.55,132.33 375.04,138.94 369.54,145.55 365.13,153.04" fill="#20281a" stroke="none" stroke-width="1" />
<polygon points="380.33,133.00 391.34,132.33 395.97,136.52 395.75,139.60 379.78,139.60" fill="#4b4a40" stroke="none" stroke-width="1" />
<polygon points="381.43,134.10 390.24,133.77 391.34,135.97 381.43,136.52" fill="#8b8878" stroke="none" stroke-width="1" />
<polygon points="390.02,144.89 395.53,144.89 395.31,147.75 390.02,147.75" fill="#4f4f48" stroke="none" stroke-width="1" />
<polygon points="383.85,149.96 388.26,149.96 388.04,152.71 383.85,152.71" fill="#55554d" stroke="none" stroke-width="1" />
<polygon points="365.13,146.43 377.03,142.03 381.43,147.53 374.82,153.04 365.13,155.24" fill="#6f6c58" stroke="none" stroke-width="1" />
</g></g>
<line x1="405.6" y1="136.1" x2="405.1" y2="137.4" stroke="#f0f0ee" stroke-width="1"/>
<line x1="403.7" y1="140.2" x2="403.2" y2="141.6" stroke="#f0f0ee" stroke-width="1"/>
<line x1="401.8" y1="145.1" x2="401.2" y2="146.7" stroke="#f0f0ee" stroke-width="1"/>
<line x1="399.4" y1="151.1" x2="398.7" y2="152.8" stroke="#f0f0ee" stroke-width="1"/>
<line x1="397.0" y1="157.7" x2="396.3" y2="159.4" stroke="#f0f0ee" stroke-width="1"/>
<text x="472.50" y="137.10" font-size="10.8" font-weight="bold" fill="#111" textLength="122.0" lengthAdjust="spacingAndGlyphs" >texture network (VGG-19)</text>
<rect x="466.30" y="140.20" width="146.00" height="38.30" fill="#fff" stroke="none" stroke-width="1" />
<polygon points="467.75,141.75 474.60,151.75 474.60,175.50 467.75,164.90" fill="#fff" stroke="#333" stroke-width="0.5" />
<polygon points="479.60,142.40 486.50,152.40 486.50,176.90 479.60,167.40" fill="#fff" stroke="#333" stroke-width="0.5" />
<polygon points="486.50,152.40 487.60,153.00 487.60,177.20 486.50,176.90" fill="#aaa" stroke="#333" stroke-width="0.3" />
<polygon points="483.40,142.40 489.60,152.40 489.60,176.90 483.40,167.40" fill="#fff" stroke="#333" stroke-width="0.5" />
<polygon points="489.60,152.40 490.70,153.00 490.70,177.20 489.60,176.90" fill="#aaa" stroke="#333" stroke-width="0.3" />
<polygon points="493.40,146.10 499.60,155.50 499.60,175.50 493.40,166.10" fill="#fff" stroke="#333" stroke-width="0.5" />
<polygon points="499.60,155.50 500.70,156.10 500.70,175.80 499.60,175.50" fill="#aaa" stroke="#333" stroke-width="0.3" />
<polygon points="497.10,146.10 503.40,155.50 503.40,175.50 497.10,166.10" fill="#fff" stroke="#333" stroke-width="0.5" />
<polygon points="503.40,155.50 504.50,156.10 504.50,175.80 503.40,175.50" fill="#aaa" stroke="#333" stroke-width="0.3" />
<polygon points="506.50,148.00 512.10,156.75 512.10,173.80 506.50,164.90" fill="#fff" stroke="#333" stroke-width="0.5" />
<polygon points="512.10,156.75 513.20,157.35 513.20,174.10 512.10,173.80" fill="#aaa" stroke="#333" stroke-width="0.3" />
<polygon points="509.60,148.00 515.50,156.75 515.50,173.80 509.60,164.90" fill="#fff" stroke="#333" stroke-width="0.5" />
<polygon points="515.50,156.75 516.60,157.35 516.60,174.10 515.50,173.80" fill="#aaa" stroke="#333" stroke-width="0.3" />
<polygon points="512.75,148.00 518.60,156.75 518.60,173.80 512.75,164.90" fill="#fff" stroke="#333" stroke-width="0.5" />
<polygon points="518.60,156.75 519.70,157.35 519.70,174.10 518.60,173.80" fill="#aaa" stroke="#333" stroke-width="0.3" />
<polygon points="523.40,151.10 529.00,158.60 529.00,170.75 523.40,163.00" fill="#fff" stroke="#333" stroke-width="0.5" />
<polygon points="529.00,158.60 530.10,159.20 530.10,171.05 529.00,170.75" fill="#aaa" stroke="#333" stroke-width="0.3" />
<polygon points="526.50,151.10 532.50,158.60 532.50,170.75 526.50,163.00" fill="#fff" stroke="#333" stroke-width="0.5" />
<polygon points="532.50,158.60 533.60,159.20 533.60,171.05 532.50,170.75" fill="#aaa" stroke="#333" stroke-width="0.3" />
<polygon points="529.60,151.10 535.60,158.60 535.60,170.75 529.60,163.00" fill="#fff" stroke="#333" stroke-width="0.5" />
<polygon points="535.60,158.60 536.70,159.20 536.70,171.05 535.60,170.75" fill="#aaa" stroke="#333" stroke-width="0.3" />
<polygon points="539.60,155.20 543.60,157.80 543.60,166.30 539.60,163.50" fill="#fff" stroke="#333" stroke-width="0.5" />
<polygon points="543.60,157.80 544.50,158.40 544.50,166.60 543.60,166.30" fill="#aaa" stroke="#333" stroke-width="0.3" />
<polygon points="542.20,155.20 546.40,157.80 546.40,166.30 542.20,163.50" fill="#fff" stroke="#333" stroke-width="0.5" />
<polygon points="546.40,157.80 547.30,158.40 547.30,166.60 546.40,166.30" fill="#aaa" stroke="#333" stroke-width="0.3" />
<polygon points="545.25,155.20 549.60,157.80 549.60,166.30 545.25,163.50" fill="#fff" stroke="#333" stroke-width="0.5" />
<polygon points="549.60,157.80 550.50,158.40 550.50,166.60 549.60,166.30" fill="#aaa" stroke="#333" stroke-width="0.3" />
<rect x="559.60" y="157.80" width="17.80" height="6.20" fill="#fff" stroke="#333" stroke-width="0.5" />
<polygon points="559.60,157.80 558.00,156.20 575.80,156.20 577.40,157.80" fill="#fff" stroke="#333" stroke-width="0.5" stroke-linejoin="round"/>
<polygon points="559.60,157.80 558.00,156.20 558.00,162.40 559.60,164.00" fill="#fff" stroke="#333" stroke-width="0.5" stroke-linejoin="round"/>
<rect x="580.90" y="157.80" width="17.60" height="6.20" fill="#fff" stroke="#333" stroke-width="0.5" />
<polygon points="580.90,157.80 579.30,156.20 596.90,156.20 598.50,157.80" fill="#fff" stroke="#333" stroke-width="0.5" stroke-linejoin="round"/>
<polygon points="580.90,157.80 579.30,156.20 579.30,162.40 580.90,164.00" fill="#fff" stroke="#333" stroke-width="0.5" stroke-linejoin="round"/>
<rect x="606.80" y="155.60" width="3.90" height="12.10" fill="#fff" stroke="#333" stroke-width="0.6" />
<polyline points="471.00,160.80 477.60,160.80" fill="none" stroke="#333" stroke-width="0.45" />
<polygon points="479.00,160.80 477.00,161.80 477.00,159.80" fill="#333" stroke="none" stroke-width="1" />
<polyline points="488.00,160.80 491.60,160.80" fill="none" stroke="#333" stroke-width="0.45" />
<polygon points="493.00,160.80 491.00,161.80 491.00,159.80" fill="#333" stroke="none" stroke-width="1" />
<polyline points="501.00,160.80 504.60,160.80" fill="none" stroke="#333" stroke-width="0.45" />
<polygon points="506.00,160.80 504.00,161.80 504.00,159.80" fill="#333" stroke="none" stroke-width="1" />
<polyline points="517.00,160.80 521.10,160.80" fill="none" stroke="#333" stroke-width="0.45" />
<polygon points="522.50,160.80 520.50,161.80 520.50,159.80" fill="#333" stroke="none" stroke-width="1" />
<polyline points="534.00,160.80 537.60,160.80" fill="none" stroke="#333" stroke-width="0.45" />
<polygon points="539.00,160.80 537.00,161.80 537.00,159.80" fill="#333" stroke="none" stroke-width="1" />
<polyline points="550.40,160.80 556.60,160.80" fill="none" stroke="#333" stroke-width="0.45" />
<polygon points="558.00,160.80 556.00,161.80 556.00,159.80" fill="#333" stroke="none" stroke-width="1" />
<polyline points="577.40,160.80 579.60,160.80" fill="none" stroke="#333" stroke-width="0.45" />
<polygon points="581.00,160.80 579.00,161.80 579.00,159.80" fill="#333" stroke="none" stroke-width="1" />
<polyline points="598.50,160.80 605.10,160.80" fill="none" stroke="#333" stroke-width="0.45" />
<polygon points="606.50,160.80 604.50,161.80 604.50,159.80" fill="#333" stroke="none" stroke-width="1" />
<polyline points="516.00,172.70 516.00,190.60 549.30,190.60 549.30,203.50" fill="none" stroke="#5b9bd5" stroke-width="2.0" />
<polygon points="549.30,207.30 546.50,202.30 552.10,202.30" fill="#5b9bd5" stroke="none" stroke-width="1" />
<clipPath id="c3"><rect x="525.20" y="208.10" width="46.60" height="32.70"/></clipPath>
<g clip-path="url(#c3)"><g filter="url(#b2)">
<rect x="521.20" y="204.10" width="54.60" height="40.70" fill="#908f8a" stroke="none" stroke-width="1" />
<polygon points="546.04,208.07 551.25,208.07 539.53,224.74 532.37,239.06 525.21,240.76 525.21,231.25" fill="#6f6d5c" stroke="none" stroke-width="1" />
<polygon points="525.21,208.07 546.69,208.07 540.18,214.58 533.67,222.40 528.46,228.91 525.21,231.90" fill="#232b1c" stroke="none" stroke-width="1" />
<polygon points="531.07,230.99 542.14,230.21 543.18,234.11 532.37,234.90" fill="#55564f" stroke="none" stroke-width="1" />
<polygon points="525.21,235.16 529.77,234.11 531.72,239.06 525.21,240.76" fill="#a39c86" stroke="none" stroke-width="1" />
</g></g>
<text x="479.00" y="258.60" font-size="10.8" font-weight="bold" fill="#111" textLength="96.0" lengthAdjust="spacingAndGlyphs" >Output after texture</text>
<text x="479.00" y="272.60" font-size="10.8" font-weight="bold" fill="#111" textLength="59.0" lengthAdjust="spacingAndGlyphs" >optimization</text>
<rect x="23.00" y="318.90" width="77.60" height="57.50" fill="#fdfcfe" stroke="none" stroke-width="1" />
<g filter="url(#b2)" opacity="0.4">
<circle cx="29.3" cy="355.4" r="1.7" fill="#d9d2f2"/>
<circle cx="46.1" cy="338.3" r="2.6" fill="#f3eecf"/>
<circle cx="27.4" cy="320.1" r="2.0" fill="#f3eecf"/>
<circle cx="58.5" cy="319.0" r="1.7" fill="#f3eecf"/>
<circle cx="60.3" cy="344.4" r="2.8" fill="#d9d2f2"/>
<circle cx="24.4" cy="320.0" r="1.2" fill="#dfe6f7"/>
<circle cx="64.0" cy="348.5" r="2.5" fill="#f3eecf"/>
<circle cx="47.6" cy="351.8" r="2.2" fill="#f3eecf"/>
<circle cx="39.1" cy="348.1" r="2.9" fill="#f3eecf"/>
<circle cx="66.1" cy="336.8" r="2.9" fill="#dfe6f7"/>
<circle cx="27.7" cy="346.0" r="1.4" fill="#e9e2f8"/>
<circle cx="38.5" cy="350.0" r="2.9" fill="#dfe6f7"/>
<circle cx="42.7" cy="354.7" r="1.7" fill="#e4dcf6"/>
<circle cx="50.4" cy="357.0" r="1.9" fill="#dfe6f7"/>
</g>
<path d="M71.4,325.2 Q71.6,320.6 76.6,319.6 L77.2,325.0 Z" fill="#7ed957"/>
<rect x="34.70" y="329.80" width="77.50" height="58.20" fill="#fdfcfe" stroke="none" stroke-width="1" />
<g filter="url(#b2)" opacity="0.4">
<circle cx="79.2" cy="371.2" r="1.4" fill="#d9d2f2"/>
<circle cx="51.5" cy="337.2" r="1.7" fill="#e9e2f8"/>
<circle cx="44.6" cy="331.4" r="3.0" fill="#e4dcf6"/>
<circle cx="64.4" cy="364.9" r="2.9" fill="#dfe6f7"/>
<circle cx="60.0" cy="349.2" r="2.8" fill="#e9e2f8"/>
<circle cx="75.2" cy="345.7" r="2.8" fill="#e9e2f8"/>
<circle cx="54.4" cy="368.4" r="2.2" fill="#e4dcf6"/>
<circle cx="45.7" cy="330.8" r="1.5" fill="#e9e2f8"/>
<circle cx="58.4" cy="345.5" r="2.4" fill="#dfe6f7"/>
<circle cx="43.2" cy="368.8" r="2.5" fill="#f3eecf"/>
<circle cx="76.9" cy="363.1" r="1.8" fill="#dfe6f7"/>
<circle cx="80.3" cy="371.8" r="2.9" fill="#e4dcf6"/>
<circle cx="53.3" cy="362.0" r="1.6" fill="#dfe6f7"/>
<circle cx="47.7" cy="351.5" r="2.7" fill="#dfe6f7"/>
</g>
<path d="M82.3,336.8 Q82.5,332.2 87.5,331.2 L88.1,336.6 Z" fill="#7ed957"/>
<rect x="46.30" y="342.20" width="79.00" height="57.80" fill="#fdfcfe" stroke="none" stroke-width="1" />
<g filter="url(#b2)" opacity="0.4">
<circle cx="57.6" cy="365.8" r="2.8" fill="#e9e2f8"/>
<circle cx="68.8" cy="367.4" r="1.2" fill="#dfe6f7"/>
<circle cx="86.0" cy="353.4" r="1.5" fill="#e4dcf6"/>
<circle cx="80.3" cy="365.7" r="2.1" fill="#dfe6f7"/>
<circle cx="76.6" cy="348.7" r="2.8" fill="#e4dcf6"/>
<circle cx="71.1" cy="374.3" r="1.5" fill="#d9d2f2"/>
<circle cx="91.7" cy="344.1" r="2.7" fill="#d9d2f2"/>
<circle cx="59.1" cy="368.0" r="2.5" fill="#f3eecf"/>
<circle cx="90.0" cy="359.3" r="2.0" fill="#dfe6f7"/>
<circle cx="90.6" cy="380.3" r="1.3" fill="#d9d2f2"/>
<circle cx="69.8" cy="353.4" r="2.6" fill="#f3eecf"/>
<circle cx="86.8" cy="360.5" r="2.2" fill="#f3eecf"/>
<circle cx="71.6" cy="359.9" r="2.8" fill="#e4dcf6"/>
<circle cx="78.6" cy="382.5" r="3.0" fill="#e9e2f8"/>
</g>
<path d="M96.0,349.2 Q96.2,344.6 101.2,343.6 L101.8,349.0 Z" fill="#7ed957"/>
<polyline points="125.30,357.70 157.64,357.70" fill="none" stroke="#5b9bd5" stroke-width="2.0" />
<polygon points="161.80,357.70 156.60,360.50 156.60,354.90" fill="#5b9bd5" stroke="none" stroke-width="1" />
<rect x="162.30" y="318.90" width="83.20" height="61.00" fill="#fff" stroke="none" stroke-width="1" />
<rect x="199.7" y="342.7" width="1.0" height="1.0" fill="#222"/>
<rect x="199.8" y="327.4" width="0.6" height="0.6" fill="#222"/>
<rect x="175.6" y="346.4" width="0.6" height="0.6" fill="#222"/>
<rect x="169.6" y="335.6" width="0.5" height="0.5" fill="#222"/>
<rect x="194.0" y="325.6" width="0.5" height="0.5" fill="#222"/>
<rect x="202.9" y="340.4" width="1.0" height="1.0" fill="#222"/>
<rect x="186.3" y="339.8" width="0.6" height="0.6" fill="#222"/>
<rect x="188.4" y="328.6" width="0.5" height="0.5" fill="#222"/>
<rect x="167.3" y="329.8" width="0.6" height="0.6" fill="#222"/>
<rect x="189.9" y="331.4" width="0.8" height="0.8" fill="#222"/>
<rect x="200.5" y="328.1" width="0.6" height="0.6" fill="#222"/>
<rect x="187.2" y="345.8" width="0.5" height="0.5" fill="#222"/>
<rect x="193.7" y="334.3" width="0.5" height="0.5" fill="#222"/>
<rect x="182.7" y="355.4" width="0.6" height="0.6" fill="#222"/>
<rect x="197.4" y="321.4" width="0.5" height="0.5" fill="#222"/>
<rect x="203.2" y="327.9" width="1.0" height="1.0" fill="#222"/>
<rect x="167.7" y="320.8" width="0.5" height="0.5" fill="#222"/>
<rect x="215.6" y="323.7" width="0.5" height="0.5" fill="#222"/>
<rect x="198.6" y="320.9" width="1.0" height="1.0" fill="#222"/>
<rect x="191.2" y="349.3" width="0.6" height="0.6" fill="#222"/>
<rect x="178.0" y="357.8" width="0.5" height="0.5" fill="#222"/>
<rect x="184.0" y="320.7" width="1.0" height="1.0" fill="#222"/>
<rect x="213.8" y="326.0" width="0.6" height="0.6" fill="#222"/>
<rect x="210.4" y="320.5" width="1.0" height="1.0" fill="#222"/>
<rect x="216.3" y="329.1" width="0.6" height="0.6" fill="#222"/>
<rect x="193.1" y="329.8" width="0.6" height="0.6" fill="#222"/>
<rect x="191.2" y="339.8" width="1.0" height="1.0" fill="#222"/>
<rect x="191.3" y="330.9" width="0.8" height="0.8" fill="#222"/>
<rect x="172.3" y="321.2" width="0.8" height="0.8" fill="#222"/>
<rect x="163.4" y="370.7" width="0.6" height="0.6" fill="#222"/>
<rect x="203.6" y="327.5" width="0.5" height="0.5" fill="#222"/>
<rect x="166.1" y="327.5" width="1.0" height="1.0" fill="#222"/>
<rect x="212.7" y="331.7" width="0.8" height="0.8" fill="#222"/>
<rect x="174.6" y="351.7" width="0.5" height="0.5" fill="#222"/>
<rect x="169.3" y="350.1" width="0.6" height="0.6" fill="#222"/>
<rect x="164.3" y="339.0" width="1.0" height="1.0" fill="#222"/>
<rect x="171.8" y="350.4" width="0.6" height="0.6" fill="#222"/>
<rect x="172.2" y="362.3" width="0.6" height="0.6" fill="#222"/>
<rect x="184.0" y="331.7" width="0.6" height="0.6" fill="#222"/>
<rect x="211.6" y="328.1" width="0.6" height="0.6" fill="#222"/>
<rect x="184.1" y="351.6" width="1.0" height="1.0" fill="#222"/>
<rect x="189.7" y="349.9" width="0.5" height="0.5" fill="#222"/>
<rect x="170.6" y="346.5" width="0.8" height="0.8" fill="#222"/>
<rect x="179.2" y="356.4" width="0.8" height="0.8" fill="#222"/>
<rect x="201.9" y="324.8" width="1.0" height="1.0" fill="#222"/>
<rect x="182.8" y="329.0" width="0.5" height="0.5" fill="#222"/>
<rect x="171.7" y="344.8" width="0.5" height="0.5" fill="#222"/>
<rect x="211.2" y="324.2" width="0.6" height="0.6" fill="#222"/>
<rect x="213.2" y="323.5" width="1.0" height="1.0" fill="#222"/>
<rect x="193.0" y="323.0" width="0.6" height="0.6" fill="#222"/>
<rect x="182.1" y="347.4" width="0.6" height="0.6" fill="#222"/>
<rect x="169.4" y="327.1" width="1.0" height="1.0" fill="#222"/>
<rect x="164.6" y="337.7" width="0.6" height="0.6" fill="#222"/>
<rect x="190.6" y="323.9" width="1.0" height="1.0" fill="#222"/>
<rect x="169.3" y="335.4" width="0.5" height="0.5" fill="#222"/>
<rect x="164.7" y="352.9" width="1.0" height="1.0" fill="#222"/>
<rect x="167.8" y="336.0" width="0.6" height="0.6" fill="#222"/>
<rect x="163.3" y="367.8" width="0.8" height="0.8" fill="#222"/>
<rect x="180.8" y="325.1" width="0.6" height="0.6" fill="#222"/>
<rect x="177.1" y="324.3" width="0.8" height="0.8" fill="#222"/>
<rect x="169.0" y="344.4" width="0.5" height="0.5" fill="#222"/>
<rect x="171.9" y="350.1" width="0.5" height="0.5" fill="#222"/>
<rect x="172.4" y="342.0" width="1.0" height="1.0" fill="#222"/>
<rect x="188.5" y="320.5" width="0.5" height="0.5" fill="#222"/>
<rect x="168.6" y="353.1" width="0.8" height="0.8" fill="#222"/>
<rect x="171.3" y="334.0" width="1.0" height="1.0" fill="#222"/>
<rect x="167.7" y="335.8" width="1.0" height="1.0" fill="#222"/>
<rect x="200.5" y="328.3" width="0.5" height="0.5" fill="#222"/>
<rect x="195.3" y="345.1" width="0.8" height="0.8" fill="#222"/>
<rect x="189.8" y="346.8" width="0.6" height="0.6" fill="#222"/>
<rect x="166.1" y="365.9" width="1.0" height="1.0" fill="#222"/>
<rect x="180.3" y="320.5" width="0.8" height="0.8" fill="#222"/>
<rect x="172.8" y="351.6" width="0.6" height="0.6" fill="#222"/>
<rect x="179.7" y="354.0" width="1.0" height="1.0" fill="#222"/>
<rect x="196.5" y="332.4" width="1.0" height="1.0" fill="#222"/>
<rect x="207.6" y="330.2" width="1.0" height="1.0" fill="#222"/>
<rect x="176.4" y="332.6" width="0.6" height="0.6" fill="#222"/>
<rect x="171.3" y="351.8" width="0.8" height="0.8" fill="#222"/>
<rect x="177.3" y="326.9" width="0.8" height="0.8" fill="#222"/>
<rect x="174.1" y="327.7" width="0.5" height="0.5" fill="#222"/>
<rect x="166.6" y="357.4" width="0.6" height="0.6" fill="#222"/>
<rect x="170.8" y="344.3" width="0.6" height="0.6" fill="#222"/>
<rect x="174.6" y="351.9" width="1.0" height="1.0" fill="#222"/>
<rect x="185.1" y="334.6" width="1.0" height="1.0" fill="#222"/>
<rect x="208.5" y="328.8" width="0.8" height="0.8" fill="#222"/>
<rect x="221.4" y="322.1" width="0.8" height="0.8" fill="#222"/>
<rect x="201.3" y="335.9" width="0.5" height="0.5" fill="#222"/>
<rect x="187.2" y="350.7" width="0.6" height="0.6" fill="#222"/>
<rect x="164.9" y="362.9" width="0.6" height="0.6" fill="#222"/>
<rect x="178.0" y="330.4" width="0.5" height="0.5" fill="#222"/>
<rect x="200.1" y="339.1" width="0.8" height="0.8" fill="#222"/>
<rect x="166.1" y="336.3" width="0.6" height="0.6" fill="#222"/>
<rect x="175.0" y="358.5" width="0.5" height="0.5" fill="#222"/>
<rect x="179.6" y="344.0" width="0.5" height="0.5" fill="#222"/>
<rect x="175.2" y="334.0" width="0.8" height="0.8" fill="#222"/>
<rect x="193.9" y="322.7" width="0.6" height="0.6" fill="#222"/>
<rect x="203.7" y="330.7" width="0.6" height="0.6" fill="#222"/>
<rect x="224.1" y="323.4" width="1.0" height="1.0" fill="#222"/>
<rect x="171.9" y="343.4" width="0.5" height="0.5" fill="#222"/>
<rect x="188.4" y="349.4" width="0.8" height="0.8" fill="#222"/>
<rect x="199.0" y="338.0" width="0.6" height="0.6" fill="#222"/>
<rect x="169.9" y="364.8" width="0.5" height="0.5" fill="#222"/>
<rect x="215.7" y="325.1" width="0.5" height="0.5" fill="#222"/>
<rect x="164.8" y="343.9" width="0.8" height="0.8" fill="#222"/>
<rect x="180.7" y="357.1" width="0.5" height="0.5" fill="#222"/>
<rect x="186.5" y="324.2" width="1.0" height="1.0" fill="#222"/>
<rect x="186.1" y="341.8" width="0.8" height="0.8" fill="#222"/>
<rect x="195.7" y="321.4" width="0.5" height="0.5" fill="#222"/>
<rect x="191.8" y="321.7" width="0.8" height="0.8" fill="#222"/>
<rect x="184.2" y="324.3" width="1.0" height="1.0" fill="#222"/>
<rect x="173.2" y="346.7" width="1.0" height="1.0" fill="#222"/>
<rect x="166.9" y="346.2" width="0.5" height="0.5" fill="#222"/>
<rect x="179.4" y="349.0" width="0.8" height="0.8" fill="#222"/>
<rect x="174.5" y="342.6" width="0.6" height="0.6" fill="#222"/>
<rect x="195.1" y="328.0" width="0.8" height="0.8" fill="#222"/>
<rect x="184.0" y="339.7" width="0.6" height="0.6" fill="#222"/>
<rect x="183.6" y="327.2" width="0.8" height="0.8" fill="#222"/>
<rect x="201.4" y="330.3" width="0.5" height="0.5" fill="#222"/>
<rect x="196.4" y="340.4" width="0.5" height="0.5" fill="#222"/>
<rect x="199.1" y="322.2" width="1.0" height="1.0" fill="#222"/>
<rect x="193.7" y="320.4" width="0.5" height="0.5" fill="#222"/>
<rect x="197.2" y="335.9" width="0.5" height="0.5" fill="#222"/>
<rect x="167.9" y="348.0" width="1.0" height="1.0" fill="#222"/>
<rect x="181.2" y="344.4" width="0.6" height="0.6" fill="#222"/>
<rect x="207.3" y="325.0" width="1.0" height="1.0" fill="#222"/>
<rect x="198.2" y="325.5" width="1.0" height="1.0" fill="#222"/>
<rect x="188.7" y="323.8" width="0.6" height="0.6" fill="#222"/>
<rect x="183.1" y="321.1" width="0.5" height="0.5" fill="#222"/>
<rect x="176.2" y="331.7" width="0.8" height="0.8" fill="#222"/>
<rect x="184.7" y="338.3" width="1.0" height="1.0" fill="#222"/>
<rect x="170.3" y="357.8" width="0.5" height="0.5" fill="#222"/>
<rect x="173.2" y="339.4" width="0.6" height="0.6" fill="#222"/>
<rect x="183.2" y="326.2" width="0.5" height="0.5" fill="#222"/>
<rect x="188.3" y="341.3" width="0.6" height="0.6" fill="#222"/>
<rect x="194.0" y="327.0" width="0.6" height="0.6" fill="#222"/>
<rect x="194.6" y="327.6" width="0.6" height="0.6" fill="#222"/>
<rect x="178.8" y="358.3" width="0.8" height="0.8" fill="#222"/>
<rect x="169.8" y="355.4" width="0.8" height="0.8" fill="#222"/>
<rect x="170.6" y="361.7" width="0.6" height="0.6" fill="#222"/>
<rect x="170.8" y="364.8" width="0.6" height="0.6" fill="#222"/>
<rect x="172.1" y="324.5" width="1.0" height="1.0" fill="#222"/>
<rect x="169.8" y="363.0" width="1.0" height="1.0" fill="#222"/>
<rect x="193.7" y="335.2" width="0.6" height="0.6" fill="#222"/>
<rect x="203.1" y="336.2" width="0.5" height="0.5" fill="#222"/>
<rect x="169.7" y="349.4" width="0.8" height="0.8" fill="#222"/>
<rect x="169.2" y="321.5" width="0.5" height="0.5" fill="#222"/>
<rect x="183.0" y="338.8" width="0.8" height="0.8" fill="#222"/>
<rect x="196.4" y="336.2" width="0.6" height="0.6" fill="#222"/>
<rect x="176.4" y="346.8" width="0.5" height="0.5" fill="#222"/>
<rect x="165.8" y="348.5" width="1.0" height="1.0" fill="#222"/>
<path d="M215.2,323.3 A2.8,3 0 0 1 220.8,323.3 Z" fill="#000"/>
<rect x="173.20" y="329.80" width="82.50" height="62.40" fill="#fff" stroke="none" stroke-width="1" />
<rect x="208.9" y="349.0" width="0.8" height="0.8" fill="#222"/>
<rect x="183.6" y="331.4" width="0.8" height="0.8" fill="#222"/>
<rect x="208.4" y="349.7" width="1.0" height="1.0" fill="#222"/>
<rect x="194.6" y="351.9" width="0.5" height="0.5" fill="#222"/>
<rect x="217.8" y="338.5" width="1.0" height="1.0" fill="#222"/>
<rect x="198.5" y="348.8" width="0.6" height="0.6" fill="#222"/>
<rect x="178.1" y="374.2" width="0.5" height="0.5" fill="#222"/>
<rect x="206.3" y="340.4" width="1.0" height="1.0" fill="#222"/>
<rect x="226.9" y="335.4" width="0.5" height="0.5" fill="#222"/>
<rect x="186.1" y="348.7" width="0.6" height="0.6" fill="#222"/>
<rect x="234.2" y="331.5" width="1.0" height="1.0" fill="#222"/>
<rect x="181.6" y="353.2" width="0.6" height="0.6" fill="#222"/>
<rect x="204.6" y="337.1" width="0.6" height="0.6" fill="#222"/>
<rect x="175.8" y="336.9" width="0.6" height="0.6" fill="#222"/>
<rect x="207.7" y="335.2" width="1.0" height="1.0" fill="#222"/>
<rect x="196.1" y="358.9" width="1.0" height="1.0" fill="#222"/>
<rect x="204.5" y="349.9" width="0.5" height="0.5" fill="#222"/>
<rect x="176.3" y="332.1" width="0.8" height="0.8" fill="#222"/>
<rect x="197.7" y="350.1" width="1.0" height="1.0" fill="#222"/>
<rect x="218.7" y="336.8" width="0.6" height="0.6" fill="#222"/>
<rect x="196.3" y="350.5" width="0.6" height="0.6" fill="#222"/>
<rect x="176.1" y="374.4" width="1.0" height="1.0" fill="#222"/>
<rect x="176.4" y="332.2" width="1.0" height="1.0" fill="#222"/>
<rect x="177.1" y="341.6" width="0.5" height="0.5" fill="#222"/>
<rect x="223.9" y="342.5" width="0.5" height="0.5" fill="#222"/>
<rect x="220.1" y="332.8" width="0.8" height="0.8" fill="#222"/>
<rect x="207.3" y="351.9" width="0.5" height="0.5" fill="#222"/>
<rect x="208.1" y="350.3" width="0.8" height="0.8" fill="#222"/>
<rect x="192.8" y="356.1" width="1.0" height="1.0" fill="#222"/>
<rect x="224.4" y="331.4" width="1.0" height="1.0" fill="#222"/>
<rect x="179.2" y="364.5" width="0.6" height="0.6" fill="#222"/>
<rect x="224.8" y="342.5" width="0.5" height="0.5" fill="#222"/>
<rect x="177.7" y="335.3" width="0.8" height="0.8" fill="#222"/>
<rect x="186.0" y="373.0" width="0.5" height="0.5" fill="#222"/>
<rect x="190.5" y="337.0" width="0.8" height="0.8" fill="#222"/>
<rect x="174.3" y="357.1" width="0.5" height="0.5" fill="#222"/>
<rect x="179.0" y="337.1" width="0.8" height="0.8" fill="#222"/>
<rect x="216.4" y="343.0" width="1.0" height="1.0" fill="#222"/>
<rect x="206.5" y="349.6" width="1.0" height="1.0" fill="#222"/>
<rect x="181.2" y="375.2" width="0.8" height="0.8" fill="#222"/>
<rect x="214.9" y="333.2" width="0.8" height="0.8" fill="#222"/>
<rect x="177.9" y="356.5" width="1.0" height="1.0" fill="#222"/>
<rect x="220.7" y="342.2" width="0.8" height="0.8" fill="#222"/>
<rect x="208.6" y="332.3" width="0.5" height="0.5" fill="#222"/>
<rect x="220.0" y="337.8" width="0.8" height="0.8" fill="#222"/>
<rect x="201.9" y="343.6" width="1.0" height="1.0" fill="#222"/>
<rect x="205.3" y="333.9" width="0.8" height="0.8" fill="#222"/>
<rect x="190.0" y="361.7" width="0.5" height="0.5" fill="#222"/>
<rect x="180.7" y="342.0" width="0.8" height="0.8" fill="#222"/>
<rect x="175.5" y="350.0" width="1.0" height="1.0" fill="#222"/>
<rect x="211.4" y="331.7" width="0.6" height="0.6" fill="#222"/>
<rect x="180.5" y="341.5" width="0.5" height="0.5" fill="#222"/>
<rect x="180.1" y="355.5" width="1.0" height="1.0" fill="#222"/>
<rect x="187.9" y="346.2" width="0.6" height="0.6" fill="#222"/>
<rect x="219.6" y="334.3" width="1.0" height="1.0" fill="#222"/>
<rect x="215.3" y="337.4" width="1.0" height="1.0" fill="#222"/>
<rect x="212.5" y="334.6" width="0.8" height="0.8" fill="#222"/>
<rect x="218.8" y="347.5" width="0.6" height="0.6" fill="#222"/>
<rect x="194.9" y="345.6" width="0.8" height="0.8" fill="#222"/>
<rect x="194.3" y="343.5" width="1.0" height="1.0" fill="#222"/>
<rect x="198.3" y="332.4" width="1.0" height="1.0" fill="#222"/>
<rect x="199.1" y="358.1" width="0.5" height="0.5" fill="#222"/>
<rect x="196.2" y="365.7" width="0.6" height="0.6" fill="#222"/>
<rect x="232.6" y="335.9" width="0.6" height="0.6" fill="#222"/>
<rect x="174.7" y="349.9" width="0.8" height="0.8" fill="#222"/>
<rect x="184.2" y="347.3" width="0.8" height="0.8" fill="#222"/>
<rect x="225.7" y="335.1" width="0.8" height="0.8" fill="#222"/>
<rect x="184.9" y="355.4" width="0.6" height="0.6" fill="#222"/>
<rect x="209.8" y="342.2" width="0.5" height="0.5" fill="#222"/>
<rect x="185.3" y="371.8" width="1.0" height="1.0" fill="#222"/>
<rect x="208.6" y="354.1" width="0.5" height="0.5" fill="#222"/>
<rect x="176.0" y="354.5" width="0.8" height="0.8" fill="#222"/>
<rect x="217.1" y="345.0" width="0.8" height="0.8" fill="#222"/>
<rect x="189.0" y="336.3" width="0.8" height="0.8" fill="#222"/>
<rect x="185.4" y="356.1" width="0.6" height="0.6" fill="#222"/>
<rect x="190.8" y="333.2" width="0.8" height="0.8" fill="#222"/>
<rect x="221.3" y="334.2" width="0.8" height="0.8" fill="#222"/>
<rect x="214.5" y="337.5" width="0.8" height="0.8" fill="#222"/>
<rect x="184.0" y="344.6" width="0.5" height="0.5" fill="#222"/>
<rect x="184.6" y="351.6" width="1.0" height="1.0" fill="#222"/>
<rect x="213.0" y="351.1" width="0.8" height="0.8" fill="#222"/>
<rect x="217.8" y="343.1" width="1.0" height="1.0" fill="#222"/>
<rect x="199.6" y="352.0" width="0.6" height="0.6" fill="#222"/>
<rect x="185.4" y="341.7" width="0.8" height="0.8" fill="#222"/>
<rect x="181.4" y="345.0" width="0.5" height="0.5" fill="#222"/>
<rect x="182.9" y="349.2" width="0.8" height="0.8" fill="#222"/>
<rect x="175.5" y="335.3" width="0.6" height="0.6" fill="#222"/>
<rect x="183.5" y="367.3" width="0.6" height="0.6" fill="#222"/>
<rect x="190.8" y="338.2" width="0.8" height="0.8" fill="#222"/>
<rect x="177.0" y="373.8" width="0.6" height="0.6" fill="#222"/>
<rect x="185.0" y="368.8" width="0.8" height="0.8" fill="#222"/>
<rect x="179.0" y="331.8" width="0.8" height="0.8" fill="#222"/>
<rect x="210.2" y="332.0" width="0.5" height="0.5" fill="#222"/>
<rect x="198.3" y="357.2" width="0.6" height="0.6" fill="#222"/>
<rect x="203.8" y="358.8" width="0.6" height="0.6" fill="#222"/>
<rect x="187.4" y="357.0" width="0.8" height="0.8" fill="#222"/>
<rect x="209.4" y="350.2" width="1.0" height="1.0" fill="#222"/>
<rect x="183.9" y="336.5" width="0.5" height="0.5" fill="#222"/>
<rect x="221.4" y="345.6" width="0.6" height="0.6" fill="#222"/>
<rect x="207.8" y="338.5" width="0.5" height="0.5" fill="#222"/>
<rect x="177.1" y="347.6" width="1.0" height="1.0" fill="#222"/>
<rect x="204.0" y="332.8" width="0.8" height="0.8" fill="#222"/>
<rect x="190.4" y="339.3" width="0.6" height="0.6" fill="#222"/>
<rect x="197.2" y="343.1" width="1.0" height="1.0" fill="#222"/>
<rect x="179.8" y="333.8" width="0.5" height="0.5" fill="#222"/>
<rect x="235.8" y="332.4" width="0.5" height="0.5" fill="#222"/>
<rect x="201.0" y="352.7" width="1.0" height="1.0" fill="#222"/>
<rect x="198.7" y="359.4" width="0.8" height="0.8" fill="#222"/>
<rect x="202.2" y="359.6" width="0.8" height="0.8" fill="#222"/>
<rect x="187.4" y="363.1" width="0.8" height="0.8" fill="#222"/>
<path d="M225.7,335.6 A2.8,3 0 0 1 231.3,335.6 Z" fill="#000"/>
<rect x="184.50" y="342.20" width="82.80" height="62.40" fill="#fff" stroke="none" stroke-width="1" />
<rect x="202.7" y="379.5" width="0.6" height="0.6" fill="#222"/>
<rect x="208.6" y="360.9" width="0.6" height="0.6" fill="#222"/>
<rect x="228.0" y="353.1" width="0.5" height="0.5" fill="#222"/>
<rect x="220.7" y="354.5" width="0.8" height="0.8" fill="#222"/>
<rect x="187.5" y="349.9" width="0.5" height="0.5" fill="#222"/>
<rect x="186.0" y="352.0" width="0.5" height="0.5" fill="#222"/>
<rect x="194.0" y="353.3" width="0.8" height="0.8" fill="#222"/>
<rect x="197.0" y="356.7" width="0.6" height="0.6" fill="#222"/>
<rect x="199.2" y="382.6" width="0.6" height="0.6" fill="#222"/>
<rect x="219.5" y="356.2" width="1.0" height="1.0" fill="#222"/>
<rect x="207.3" y="349.1" width="0.8" height="0.8" fill="#222"/>
<rect x="208.3" y="377.9" width="0.8" height="0.8" fill="#222"/>
<rect x="206.0" y="366.8" width="0.6" height="0.6" fill="#222"/>
<rect x="222.6" y="357.6" width="0.6" height="0.6" fill="#222"/>
<rect x="204.9" y="352.7" width="0.8" height="0.8" fill="#222"/>
<rect x="202.3" y="367.6" width="0.8" height="0.8" fill="#222"/>
<rect x="211.7" y="350.1" width="1.0" height="1.0" fill="#222"/>
<rect x="215.3" y="366.3" width="0.6" height="0.6" fill="#222"/>
<rect x="232.0" y="350.2" width="1.0" height="1.0" fill="#222"/>
<rect x="208.6" y="345.7" width="1.0" height="1.0" fill="#222"/>
<rect x="185.6" y="365.7" width="0.5" height="0.5" fill="#222"/>
<rect x="200.4" y="369.6" width="1.0" height="1.0" fill="#222"/>
<rect x="227.8" y="351.7" width="1.0" height="1.0" fill="#222"/>
<rect x="234.3" y="356.5" width="0.8" height="0.8" fill="#222"/>
<rect x="238.3" y="351.0" width="0.8" height="0.8" fill="#222"/>
<rect x="217.3" y="361.4" width="0.6" height="0.6" fill="#222"/>
<rect x="233.4" y="354.4" width="0.5" height="0.5" fill="#222"/>
<rect x="213.3" y="364.9" width="0.8" height="0.8" fill="#222"/>
<rect x="213.1" y="366.0" width="0.6" height="0.6" fill="#222"/>
<rect x="205.1" y="351.9" width="0.5" height="0.5" fill="#222"/>
<rect x="192.1" y="387.4" width="1.0" height="1.0" fill="#222"/>
<rect x="209.1" y="366.7" width="0.5" height="0.5" fill="#222"/>
<rect x="187.4" y="352.5" width="0.5" height="0.5" fill="#222"/>
<rect x="220.4" y="349.9" width="0.8" height="0.8" fill="#222"/>
<rect x="193.5" y="359.2" width="0.8" height="0.8" fill="#222"/>
<rect x="214.3" y="359.2" width="1.0" height="1.0" fill="#222"/>
<rect x="217.2" y="351.1" width="0.5" height="0.5" fill="#222"/>
<rect x="185.9" y="361.0" width="1.0" height="1.0" fill="#222"/>
<rect x="214.7" y="368.0" width="1.0" height="1.0" fill="#222"/>
<rect x="200.3" y="354.2" width="0.5" height="0.5" fill="#222"/>
<rect x="226.8" y="358.4" width="0.6" height="0.6" fill="#222"/>
<rect x="234.4" y="356.9" width="0.6" height="0.6" fill="#222"/>
<rect x="202.6" y="374.4" width="0.8" height="0.8" fill="#222"/>
<rect x="200.5" y="364.8" width="1.0" height="1.0" fill="#222"/>
<rect x="199.0" y="361.8" width="0.5" height="0.5" fill="#222"/>
<rect x="206.5" y="367.6" width="0.5" height="0.5" fill="#222"/>
<rect x="201.5" y="364.4" width="0.5" height="0.5" fill="#222"/>
<rect x="228.8" y="359.5" width="1.0" height="1.0" fill="#222"/>
<rect x="219.9" y="366.8" width="0.8" height="0.8" fill="#222"/>
<rect x="189.6" y="371.2" width="0.6" height="0.6" fill="#222"/>
<rect x="195.3" y="346.0" width="0.8" height="0.8" fill="#222"/>
<rect x="197.2" y="384.7" width="0.8" height="0.8" fill="#222"/>
<rect x="225.5" y="358.6" width="0.8" height="0.8" fill="#222"/>
<rect x="194.0" y="362.3" width="1.0" height="1.0" fill="#222"/>
<rect x="213.0" y="365.3" width="1.0" height="1.0" fill="#222"/>
<rect x="188.4" y="371.6" width="0.6" height="0.6" fill="#222"/>
<rect x="187.6" y="393.6" width="0.6" height="0.6" fill="#222"/>
<rect x="192.6" y="367.3" width="0.6" height="0.6" fill="#222"/>
<rect x="192.0" y="348.8" width="0.6" height="0.6" fill="#222"/>
<rect x="245.8" y="346.8" width="0.5" height="0.5" fill="#222"/>
<rect x="228.9" y="353.7" width="0.6" height="0.6" fill="#222"/>
<rect x="188.6" y="355.8" width="0.6" height="0.6" fill="#222"/>
<rect x="217.3" y="347.4" width="1.0" height="1.0" fill="#222"/>
<rect x="198.4" y="364.0" width="0.5" height="0.5" fill="#222"/>
<rect x="196.1" y="348.6" width="0.5" height="0.5" fill="#222"/>
<rect x="211.1" y="346.2" width="0.8" height="0.8" fill="#222"/>
<rect x="220.8" y="359.1" width="0.8" height="0.8" fill="#222"/>
<rect x="202.8" y="363.0" width="0.5" height="0.5" fill="#222"/>
<rect x="196.6" y="344.0" width="0.8" height="0.8" fill="#222"/>
<rect x="194.4" y="343.2" width="1.0" height="1.0" fill="#222"/>
<path d="M237.0,348.0 A2.8,3 0 0 1 242.6,348.0 Z" fill="#000"/>
<text x="46.00" y="423.80" font-size="10.8" font-weight="bold" fill="#111" textLength="60.0" lengthAdjust="spacingAndGlyphs" >Motion Field</text>
<text x="46.00" y="436.90" font-size="10.8" font-weight="bold" fill="#111" textLength="70.8" lengthAdjust="spacingAndGlyphs" >by Optical flow</text>
<text x="192.20" y="434.10" font-size="10.8" font-weight="bold" fill="#111" textLength="67.4" lengthAdjust="spacingAndGlyphs" >Motion Masks</text>
<text x="313.70" y="433.60" font-size="10.8" font-weight="bold" fill="#111" textLength="73.2" lengthAdjust="spacingAndGlyphs" >Object Masking</text>
<g transform="translate(291.6,325.2) rotate(90)">
<text x="0.00" y="0.60" font-size="8" font-weight="bold" fill="#111" textLength="49.8" lengthAdjust="spacingAndGlyphs" >Image Patches</text>
</g>
<polyline points="302.60,321.40 302.60,371.84" fill="none" stroke="#5b9bd5" stroke-width="2.0" />
<polygon points="302.60,376.00 299.80,370.80 305.40,370.80" fill="#5b9bd5" stroke="none" stroke-width="1" />
<use href="#road" x="316.00" y="321.40" width="73.00" height="54.50" />
<use href="#car" x="359.50" y="323.00" width="6.00" height="5.00" />
<rect x="333.60" y="321.00" width="2.60" height="55.30" fill="#fff" stroke="none" stroke-width="1" />
<rect x="354.70" y="321.00" width="2.30" height="55.30" fill="#fff" stroke="none" stroke-width="1" />
<rect x="375.20" y="321.00" width="2.30" height="55.30" fill="#fff" stroke="none" stroke-width="1" />
<rect x="315.60" y="331.80" width="73.80" height="3.60" fill="#fff" stroke="none" stroke-width="1" />
<rect x="315.60" y="348.10" width="73.80" height="3.80" fill="#fff" stroke="none" stroke-width="1" />
<rect x="315.60" y="362.50" width="73.80" height="3.90" fill="#fff" stroke="none" stroke-width="1" />
<clipPath id="c4"><rect x="292.30" y="381.90" width="26.70" height="22.90"/></clipPath>
<g clip-path="url(#c4)"><g filter="url(#b1)">
<rect x="288.30" y="377.90" width="34.70" height="30.90" fill="#9f9f9c" stroke="none" stroke-width="1" />
<polygon points="302.93,381.92 311.39,381.92 298.69,392.93 292.26,396.31 292.26,390.39" fill="#8f8c74" stroke="none" stroke-width="1" />
<polygon points="292.26,381.92 303.77,381.92 297.85,387.85 292.26,391.57" fill="#343b29" stroke="none" stroke-width="1" />
<rect x="300.90" y="386.60" width="10.50" height="8.80" fill="#181c24" stroke="none" stroke-width="1" rx="2.5"/>
<rect x="302.60" y="387.30" width="7.20" height="3.10" fill="#39424f" stroke="none" stroke-width="1" rx="1.2"/>
</g></g>
<rect x="307.20" y="392.60" width="32.10" height="25.70" fill="#fff" stroke="none" stroke-width="1" />
<rect x="315.10" y="396.30" width="13.20" height="16.60" fill="#000" stroke="none" stroke-width="1" />
<polyline points="339.60,400.90 369.84,400.90" fill="none" stroke="#5b9bd5" stroke-width="2.0" />
<polygon points="374.00,400.90 368.80,403.70 368.80,398.10" fill="#5b9bd5" stroke="none" stroke-width="1" />
<clipPath id="c5"><rect x="372.80" y="385.30" width="37.10" height="28.30"/></clipPath>
<g clip-path="url(#c5)"><g filter="url(#b2)">
<rect x="368.80" y="381.30" width="45.10" height="36.30" fill="#a09f9c" stroke="none" stroke-width="1" />
<polygon points="382.48,385.31 389.25,385.31 380.79,403.08 374.86,413.58 372.83,413.58 372.83,403.08" fill="#8a8674" stroke="none" stroke-width="1" />
<polygon points="372.83,385.31 385.02,385.31 382.48,392.93 378.25,401.39 372.83,406.13" fill="#272e20" stroke="none" stroke-width="1" />
<polygon points="372.83,406.47 383.33,405.11 384.17,409.01 372.83,410.70" fill="#6c6b66" stroke="none" stroke-width="1" />
</g></g>
<rect x="383.30" y="389.20" width="15.30" height="16.90" fill="#fff" stroke="none" stroke-width="1" />
<circle cx="402.8" cy="390.4" r="0.55" fill="#eee"/>
<circle cx="401.4" cy="396.3" r="0.55" fill="#eee"/>
<circle cx="399.7" cy="403.1" r="0.55" fill="#eee"/>
<circle cx="394.3" cy="411.9" r="0.55" fill="#eee"/>
<clipPath id="c6"><rect x="473.40" y="323.40" width="45.30" height="33.50"/></clipPath>
<g clip-path="url(#c6)"><g filter="url(#b2)">
<rect x="469.40" y="319.40" width="53.30" height="41.50" fill="#9b9a96" stroke="none" stroke-width="1" />
<polygon points="493.90,323.40 500.38,323.40 486.35,343.90 478.79,356.85 473.40,356.85 473.40,350.38" fill="#8f8a76" stroke="none" stroke-width="1" />
<polygon points="473.40,323.40 494.33,323.40 484.84,335.27 477.07,346.06 473.40,350.81" fill="#2a3122" stroke="none" stroke-width="1" />
</g></g>
<rect x="485.90" y="342.80" width="45.30" height="31.80" fill="#000" stroke="none" stroke-width="1" />
<path d="M503.2,361.2 L503.2,359 L505,358 L505.1,354 Q505.6,350.4 509.5,350.4 L514,350.4 Q517.5,350.6 517.6,354.5 L517.6,361.2 Z" fill="#fff"/>
<clipPath id="c7"><rect x="506.20" y="373.70" width="46.00" height="38.60"/></clipPath>
<g clip-path="url(#c7)"><g filter="url(#b1)">
<rect x="502.20" y="369.70" width="54.00" height="46.60" fill="#a2a2a0" stroke="none" stroke-width="1" />
<polygon points="518.72,373.69 527.36,373.69 514.41,387.07 506.20,393.55 506.20,382.75" fill="#8e8b6e" stroke="none" stroke-width="1" />
<polygon points="506.20,373.69 519.37,373.69 511.17,380.59 506.20,383.83" fill="#39402c" stroke="none" stroke-width="1" />
<polygon points="506.20,392.47 516.56,386.64 519.80,389.23 506.20,397.43" fill="#b4b0a3" stroke="none" stroke-width="1" />
<rect x="520.40" y="381.90" width="18.80" height="15.50" fill="#1b2028" stroke="none" stroke-width="1" rx="4.5"/>
<rect x="523.20" y="383.00" width="13.40" height="5.30" fill="#3c4656" stroke="none" stroke-width="1" rx="2"/>
<rect x="522.00" y="393.00" width="4.00" height="2.50" fill="#c9ccd0" stroke="none" stroke-width="1" rx="1"/>
<rect x="533.60" y="393.00" width="4.00" height="2.50" fill="#c9ccd0" stroke="none" stroke-width="1" rx="1"/>
</g></g>
<line x1="551.1" y1="381.1" x2="549.9" y2="384.9" stroke="#eee" stroke-width="1.1"/>
<line x1="548.4" y1="388.6" x2="547.1999999999999" y2="392.4" stroke="#eee" stroke-width="1.1"/>
<line x1="545.1" y1="397.1" x2="543.9" y2="400.9" stroke="#eee" stroke-width="1.1"/>
<line x1="541.2" y1="406.6" x2="540.0" y2="410.4" stroke="#eee" stroke-width="1.1"/>
<polyline points="531.20,363.40 566.64,363.40" fill="none" stroke="#5b9bd5" stroke-width="2.0" />
<polygon points="570.80,363.40 565.60,366.20 565.60,360.60" fill="#5b9bd5" stroke="none" stroke-width="1" />
<clipPath id="c8"><rect x="571.50" y="347.80" width="44.40" height="37.70"/></clipPath>
<g clip-path="url(#c8)"><g filter="url(#b2)">
<rect x="567.50" y="343.80" width="52.40" height="45.70" fill="#97958f" stroke="none" stroke-width="1" />
<polygon points="593.69,347.81 598.31,347.81 588.40,368.03 579.82,385.46 571.49,385.46 571.49,384.54" fill="#8c8874" stroke="none" stroke-width="1" />
<polygon points="571.49,347.81 594.08,347.81 591.44,356.14 584.17,364.33 577.44,373.57 573.47,381.50 571.49,384.93" fill="#262e1f" stroke="none" stroke-width="1" />
<polygon points="579.82,377.93 591.70,377.01 592.36,380.57 578.49,381.90" fill="#6a6963" stroke="none" stroke-width="1" />
</g></g>
<line x1="611.6" y1="351.5" x2="610.9" y2="354.1" stroke="#eee" stroke-width="0.9"/>
<line x1="609.9" y1="358.1" x2="609.2" y2="360.7" stroke="#eee" stroke-width="0.9"/>
<line x1="607.5" y1="365.4" x2="606.8" y2="368.0" stroke="#eee" stroke-width="0.9"/>
<line x1="605.3" y1="371.3" x2="604.6" y2="373.9" stroke="#eee" stroke-width="0.9"/>
<line x1="602.9" y1="377.3" x2="602.2" y2="379.9" stroke="#eee" stroke-width="0.9"/>
<line x1="600.9" y1="382.8" x2="600.2" y2="385.4" stroke="#eee" stroke-width="0.9"/>
<text x="477.20" y="429.90" font-size="10.8" font-weight="bold" fill="#111" textLength="125.6" lengthAdjust="spacingAndGlyphs" >Modified Poisson Blending</text>
<use href="#road" x="656.90" y="340.10" width="86.10" height="64.70" />
<rect x="677.50" y="339.70" width="2.50" height="65.50" fill="#fff" stroke="none" stroke-width="1" />
<rect x="703.00" y="339.70" width="3.60" height="65.50" fill="#fff" stroke="none" stroke-width="1" />
<rect x="727.20" y="339.70" width="3.20" height="65.50" fill="#fff" stroke="none" stroke-width="1" />
<rect x="656.50" y="353.50" width="86.90" height="3.30" fill="#fff" stroke="none" stroke-width="1" />
<rect x="656.50" y="372.80" width="86.90" height="3.40" fill="#fff" stroke="none" stroke-width="1" />
<rect x="656.50" y="391.50" width="86.90" height="3.20" fill="#fff" stroke="none" stroke-width="1" />
<path d="M615.8,361.7 C632,361.5 646,360.5 654.5,358.8 C660,357.7 662.5,357 664.2,355.9 C666.5,354.3 666.5,352.3 668.5,351.5 C671,350.5 675,350.6 678.7,350.3 C688,349.5 696,348.6 703,347.9 L713.5,346.7" fill="none" stroke="#5b9bd5" stroke-width="2.0"/>
<polygon points="718.20,346.20 713.47,349.19 712.98,344.21" fill="#5b9bd5" stroke="none" stroke-width="1" />
<text x="652.00" y="416.40" font-size="7.2" font-weight="bold" fill="#111" textLength="96.3" lengthAdjust="spacingAndGlyphs" >Patch to Image construction</text>
</svg></body></html>
